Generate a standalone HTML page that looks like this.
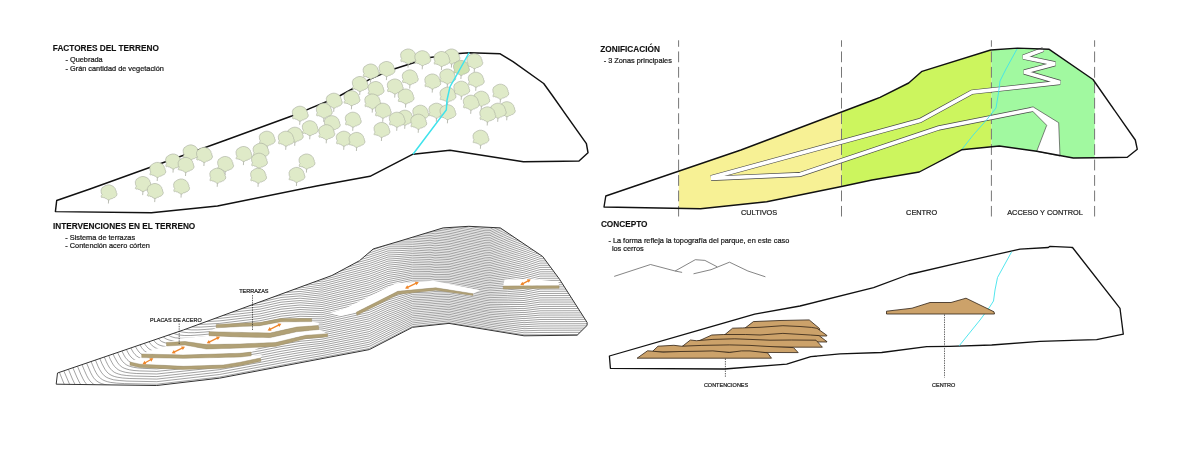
<!DOCTYPE html><html><head><meta charset="utf-8"><style>html,body{margin:0;padding:0;background:#fff;width:1200px;height:456px;overflow:hidden}svg{display:block}text{font-family:"Liberation Sans",sans-serif}svg text{will-change:transform}</style></head><body>
<svg width="1200" height="456" viewBox="0 0 1200 456">
<rect width="1200" height="456" fill="#fff"/>
<defs><clipPath id="trc"><polygon points="604.0,207.0 605.8,196.0 740.9,150.0 873.3,100.0 880.0,97.3 908.7,83.0 922.0,71.3 990.7,50.0 1017.5,48.1 1049.2,49.3 1093.0,79.5 1135.3,140.0 1137.3,149.3 1127.3,157.3 1073.3,158.0 1036.7,151.3 999.3,146.0 991.9,146.8 961.6,149.8 919.3,172.0 872.0,180.0 841.6,186.5 766.7,201.7 700.5,208.8"/></clipPath><clipPath id="blc"><polygon points="57.5,373.0 183.3,330.0 331.9,275.5 359.5,260.7 373.3,248.9 400.0,241.0 443.1,227.9 468.8,226.3 500.3,227.9 542.7,256.5 559.5,279.2 579.2,310.0 587.1,322.4 587.1,325.4 577.2,335.2 524.0,335.8 449.0,323.4 412.5,327.3 369.3,349.6 219.4,378.2 156.7,385.5 56.2,384.2"/></clipPath></defs>
<text x="52.8" y="50.8" font-size="8.25" font-weight="bold" fill="#111" stroke="#111" stroke-width="0.12">FACTORES DEL TERRENO</text>
<text x="65.5" y="62" font-size="7.35" font-weight="normal" fill="#1a1a1a" stroke="#1a1a1a" stroke-width="0.22">- Quebrada</text>
<text x="65.5" y="70.5" font-size="7.35" font-weight="normal" fill="#1a1a1a" stroke="#1a1a1a" stroke-width="0.22">- Grán cantidad de vegetación</text>
<text x="53" y="229.2" font-size="8.25" font-weight="bold" fill="#111" stroke="#111" stroke-width="0.12">INTERVENCIONES EN EL TERRENO</text>
<text x="65.3" y="240" font-size="7.35" font-weight="normal" fill="#1a1a1a" stroke="#1a1a1a" stroke-width="0.22">- Sistema de terrazas</text>
<text x="65.3" y="248.3" font-size="7.35" font-weight="normal" fill="#1a1a1a" stroke="#1a1a1a" stroke-width="0.22">- Contención acero córten</text>
<text x="600.3" y="51.7" font-size="8.25" font-weight="bold" fill="#111" stroke="#111" stroke-width="0.12">ZONIFICACIÓN</text>
<text x="603.7" y="63.3" font-size="7.35" font-weight="normal" fill="#1a1a1a" stroke="#1a1a1a" stroke-width="0.22">- 3 Zonas principales</text>
<text x="600.9" y="227.2" font-size="8.25" font-weight="bold" fill="#111" stroke="#111" stroke-width="0.12">CONCEPTO</text>
<text x="608.4" y="242.5" font-size="7.35" font-weight="normal" fill="#1a1a1a" stroke="#1a1a1a" stroke-width="0.22">- La forma refleja la topografía del parque, en este caso</text>
<text x="611.9" y="251.3" font-size="7.35" font-weight="normal" fill="#1a1a1a" stroke="#1a1a1a" stroke-width="0.22">los cerros</text>
<text x="741" y="215.3" font-size="7.35" font-weight="normal" fill="#1e1e1e" stroke="#1e1e1e" stroke-width="0.22">CULTIVOS</text>
<text x="906.1" y="215.2" font-size="7.35" font-weight="normal" fill="#1e1e1e" stroke="#1e1e1e" stroke-width="0.22">CENTRO</text>
<text x="1007.2" y="215.4" font-size="7.35" font-weight="normal" fill="#1e1e1e" stroke="#1e1e1e" stroke-width="0.22">ACCESO Y CONTROL</text>
<text x="239.2" y="292.5" font-size="5.5" font-weight="normal" fill="#1e1e1e" stroke="#1e1e1e" stroke-width="0.22">TERRAZAS</text>
<text x="150" y="321.7" font-size="5.5" font-weight="normal" fill="#1e1e1e" stroke="#1e1e1e" stroke-width="0.22">PLACAS DE ACERO</text>
<text x="703.9" y="386.7" font-size="5.5" font-weight="normal" fill="#1e1e1e" stroke="#1e1e1e" stroke-width="0.22">CONTENCIONES</text>
<text x="932" y="386.7" font-size="5.5" font-weight="normal" fill="#1e1e1e" stroke="#1e1e1e" stroke-width="0.22">CENTRO</text>
<polygon points="56.7,200.5 90.0,189.0 226.0,140.0 291.7,116.0 336.7,97.5 370.0,79.2 393.3,69.2 430.0,57.5 459.0,53.5 469.5,52.7 500.2,53.8 513.0,61.7 543.7,83.5 552.0,95.0 586.4,143.7 588.0,152.7 579.0,161.0 523.4,161.7 450.0,150.2 413.0,154.2 370.0,176.3 316.7,186.0 217.5,206.0 151.4,212.8 55.4,211.6" fill="none" stroke="#111" stroke-width="1.45" stroke-linejoin="round"/>
<path d="M408.3 62.6L408.0 67.6" stroke="#a8aca0" stroke-width="0.8" fill="none"/>
<path d="M402.5 51.3Q404.5 49.5 407.2 49.0Q409.5 48.7 411.5 49.8Q413.2 50.3 414.1 51.9Q415.2 52.6 415.1 54.0Q416.2 55.2 415.9 56.6Q416.9 57.7 416.5 58.7Q416.4 60.0 415.1 60.8Q414.6 61.8 413.0 61.9Q412.1 63.0 410.4 62.9Q409.5 64.1 408.3 64.0Q407.1 64.1 406.2 62.9Q405.1 63.0 404.6 61.9Q403.1 62.1 402.5 61.3Q401.3 61.9 401.2 61.6Q400.4 61.3 400.9 60.3Q400.7 59.8 401.7 58.7Q400.5 57.2 400.7 55.5Q400.3 54.0 401.2 52.9Q401.3 51.7 402.5 51.3Z" fill="#dfeac8" stroke="#a8ac9e" stroke-width="0.6"/>
<path d="M451.7 62.6L451.4 67.6" stroke="#a8aca0" stroke-width="0.8" fill="none"/>
<path d="M445.9 51.3Q447.9 49.5 450.6 49.0Q452.9 48.7 454.9 49.8Q456.6 50.3 457.5 51.9Q458.6 52.6 458.5 54.0Q459.6 55.2 459.3 56.6Q460.3 57.7 459.9 58.7Q459.8 60.0 458.5 60.8Q458.0 61.8 456.4 61.9Q455.5 63.0 453.8 62.9Q452.9 64.1 451.7 64.0Q450.5 64.1 449.6 62.9Q448.5 63.0 448.0 61.9Q446.5 62.1 445.9 61.3Q444.7 61.9 444.6 61.6Q443.8 61.3 444.3 60.3Q444.1 59.8 445.1 58.7Q443.9 57.2 444.1 55.5Q443.7 54.0 444.6 52.9Q444.7 51.7 445.9 51.3Z" fill="#dfeac8" stroke="#a8ac9e" stroke-width="0.6"/>
<path d="M422.5 64.3L422.2 69.3" stroke="#a8aca0" stroke-width="0.8" fill="none"/>
<path d="M416.7 53.0Q418.7 51.2 421.4 50.7Q423.7 50.4 425.7 51.5Q427.4 52.0 428.3 53.6Q429.4 54.3 429.3 55.7Q430.4 56.9 430.1 58.3Q431.1 59.4 430.7 60.4Q430.6 61.7 429.3 62.5Q428.8 63.5 427.2 63.6Q426.3 64.7 424.6 64.6Q423.7 65.8 422.5 65.7Q421.3 65.8 420.4 64.6Q419.3 64.7 418.8 63.6Q417.3 63.8 416.7 63.0Q415.5 63.6 415.4 63.3Q414.6 63.0 415.1 62.0Q414.9 61.5 415.9 60.4Q414.7 58.9 414.9 57.2Q414.5 55.7 415.4 54.6Q415.5 53.4 416.7 53.0Z" fill="#dfeac8" stroke="#a8ac9e" stroke-width="0.6"/>
<path d="M441.7 65.1L441.4 70.1" stroke="#a8aca0" stroke-width="0.8" fill="none"/>
<path d="M435.9 53.8Q437.9 52.0 440.6 51.5Q442.9 51.2 444.9 52.3Q446.6 52.8 447.5 54.4Q448.6 55.1 448.5 56.5Q449.6 57.7 449.3 59.1Q450.3 60.2 449.9 61.2Q449.8 62.5 448.5 63.3Q448.0 64.3 446.4 64.4Q445.5 65.5 443.8 65.4Q442.9 66.6 441.7 66.5Q440.5 66.6 439.6 65.4Q438.5 65.5 438.0 64.4Q436.5 64.6 435.9 63.8Q434.7 64.4 434.6 64.1Q433.8 63.8 434.3 62.8Q434.1 62.3 435.1 61.2Q433.9 59.7 434.1 58.0Q433.7 56.5 434.6 55.4Q434.7 54.2 435.9 53.8Z" fill="#dfeac8" stroke="#a8ac9e" stroke-width="0.6"/>
<path d="M474.5 67.3L474.2 72.3" stroke="#a8aca0" stroke-width="0.8" fill="none"/>
<path d="M468.7 56.0Q470.7 54.2 473.4 53.7Q475.7 53.4 477.7 54.5Q479.4 55.0 480.3 56.6Q481.4 57.3 481.3 58.7Q482.4 59.9 482.1 61.3Q483.1 62.4 482.7 63.4Q482.6 64.7 481.3 65.5Q480.8 66.5 479.2 66.6Q478.3 67.7 476.6 67.6Q475.7 68.8 474.5 68.7Q473.3 68.8 472.4 67.6Q471.3 67.7 470.8 66.6Q469.3 66.8 468.7 66.0Q467.5 66.6 467.4 66.3Q466.6 66.0 467.1 65.0Q466.9 64.5 467.9 63.4Q466.7 61.9 466.9 60.2Q466.5 58.7 467.4 57.6Q467.5 56.4 468.7 56.0Z" fill="#dfeac8" stroke="#a8ac9e" stroke-width="0.6"/>
<path d="M461.2 74.0L460.9 79.0" stroke="#a8aca0" stroke-width="0.8" fill="none"/>
<path d="M455.4 62.7Q457.4 60.9 460.1 60.4Q462.4 60.1 464.4 61.2Q466.1 61.7 467.0 63.3Q468.1 64.0 468.0 65.4Q469.1 66.6 468.8 68.0Q469.8 69.1 469.4 70.1Q469.3 71.4 468.0 72.2Q467.5 73.2 465.9 73.3Q465.0 74.4 463.3 74.3Q462.4 75.5 461.2 75.4Q460.0 75.5 459.1 74.3Q458.0 74.4 457.5 73.3Q456.0 73.5 455.4 72.7Q454.2 73.3 454.1 73.0Q453.3 72.7 453.8 71.7Q453.6 71.2 454.6 70.1Q453.4 68.6 453.6 67.0Q453.2 65.4 454.1 64.3Q454.2 63.1 455.4 62.7Z" fill="#cfe2b0" stroke="#a8ac9e" stroke-width="0.6"/>
<path d="M386.7 75.1L386.4 80.1" stroke="#a8aca0" stroke-width="0.8" fill="none"/>
<path d="M380.9 63.8Q382.9 62.0 385.6 61.5Q387.9 61.2 389.9 62.3Q391.6 62.8 392.5 64.4Q393.6 65.1 393.5 66.5Q394.6 67.7 394.3 69.1Q395.3 70.2 394.9 71.2Q394.8 72.5 393.5 73.3Q393.0 74.3 391.4 74.4Q390.5 75.5 388.8 75.4Q387.9 76.6 386.7 76.5Q385.5 76.6 384.6 75.4Q383.5 75.5 383.0 74.4Q381.5 74.6 380.9 73.8Q379.7 74.4 379.6 74.1Q378.8 73.8 379.3 72.8Q379.1 72.3 380.1 71.2Q378.9 69.7 379.1 68.0Q378.7 66.5 379.6 65.4Q379.7 64.2 380.9 63.8Z" fill="#dfeac8" stroke="#a8ac9e" stroke-width="0.6"/>
<path d="M370.8 77.6L370.5 82.6" stroke="#a8aca0" stroke-width="0.8" fill="none"/>
<path d="M365.0 66.3Q367.0 64.5 369.8 64.0Q372.0 63.7 374.0 64.8Q375.7 65.3 376.6 66.9Q377.7 67.6 377.6 69.0Q378.7 70.2 378.4 71.6Q379.4 72.7 379.0 73.7Q378.9 75.0 377.6 75.8Q377.1 76.8 375.5 76.9Q374.6 78.0 372.9 77.9Q372.0 79.1 370.8 79.0Q369.6 79.1 368.7 77.9Q367.6 78.0 367.1 76.9Q365.6 77.1 365.0 76.3Q363.8 76.9 363.7 76.6Q362.9 76.3 363.4 75.3Q363.2 74.8 364.2 73.7Q363.0 72.2 363.2 70.5Q362.8 69.0 363.7 67.9Q363.8 66.7 365.0 66.3Z" fill="#dfeac8" stroke="#a8ac9e" stroke-width="0.6"/>
<path d="M447.5 82.6L447.2 87.6" stroke="#a8aca0" stroke-width="0.8" fill="none"/>
<path d="M441.7 71.3Q443.7 69.5 446.4 69.0Q448.7 68.7 450.7 69.8Q452.4 70.3 453.3 71.9Q454.4 72.6 454.3 74.0Q455.4 75.2 455.1 76.6Q456.1 77.7 455.7 78.7Q455.6 80.0 454.3 80.8Q453.8 81.8 452.2 81.9Q451.3 83.0 449.6 82.9Q448.7 84.1 447.5 84.0Q446.3 84.1 445.4 82.9Q444.3 83.0 443.8 81.9Q442.3 82.1 441.7 81.3Q440.5 81.9 440.4 81.6Q439.6 81.3 440.1 80.3Q439.9 79.8 440.9 78.7Q439.7 77.2 439.9 75.5Q439.5 74.0 440.4 72.9Q440.5 71.7 441.7 71.3Z" fill="#dfeac8" stroke="#a8ac9e" stroke-width="0.6"/>
<path d="M410.0 83.5L409.7 88.5" stroke="#a8aca0" stroke-width="0.8" fill="none"/>
<path d="M404.2 72.2Q406.2 70.4 408.9 69.9Q411.2 69.6 413.2 70.7Q414.9 71.2 415.8 72.8Q416.9 73.5 416.8 74.9Q417.9 76.1 417.6 77.5Q418.6 78.6 418.2 79.6Q418.1 80.9 416.8 81.7Q416.3 82.7 414.7 82.8Q413.8 83.9 412.1 83.8Q411.2 85.0 410.0 84.9Q408.8 85.0 407.9 83.8Q406.8 83.9 406.3 82.8Q404.8 83.0 404.2 82.2Q403.0 82.8 402.9 82.5Q402.1 82.2 402.6 81.2Q402.4 80.7 403.4 79.6Q402.2 78.1 402.4 76.5Q402.0 74.9 402.9 73.8Q403.0 72.6 404.2 72.2Z" fill="#dfeac8" stroke="#a8ac9e" stroke-width="0.6"/>
<path d="M476.0 85.8L475.7 90.8" stroke="#a8aca0" stroke-width="0.8" fill="none"/>
<path d="M470.2 74.5Q472.2 72.7 474.9 72.2Q477.2 71.9 479.2 73.0Q480.9 73.5 481.8 75.1Q482.9 75.8 482.8 77.2Q483.9 78.4 483.6 79.8Q484.6 80.9 484.2 81.9Q484.1 83.2 482.8 84.0Q482.3 85.0 480.7 85.1Q479.8 86.2 478.1 86.1Q477.2 87.3 476.0 87.2Q474.8 87.3 473.9 86.1Q472.8 86.2 472.3 85.1Q470.8 85.3 470.2 84.5Q469.0 85.1 468.9 84.8Q468.1 84.5 468.6 83.5Q468.4 83.0 469.4 81.9Q468.2 80.4 468.4 78.8Q468.0 77.2 468.9 76.1Q469.0 74.9 470.2 74.5Z" fill="#dfeac8" stroke="#a8ac9e" stroke-width="0.6"/>
<path d="M432.5 87.6L432.2 92.6" stroke="#a8aca0" stroke-width="0.8" fill="none"/>
<path d="M426.7 76.3Q428.7 74.5 431.4 74.0Q433.7 73.7 435.7 74.8Q437.4 75.3 438.3 76.9Q439.4 77.6 439.3 79.0Q440.4 80.2 440.1 81.6Q441.1 82.7 440.7 83.7Q440.6 85.0 439.3 85.8Q438.8 86.8 437.2 86.9Q436.3 88.0 434.6 87.9Q433.7 89.1 432.5 89.0Q431.3 89.1 430.4 87.9Q429.3 88.0 428.8 86.9Q427.3 87.1 426.7 86.3Q425.5 86.9 425.4 86.6Q424.6 86.3 425.1 85.3Q424.9 84.8 425.9 83.7Q424.7 82.2 424.9 80.5Q424.5 79.0 425.4 77.9Q425.5 76.7 426.7 76.3Z" fill="#dfeac8" stroke="#a8ac9e" stroke-width="0.6"/>
<path d="M360.0 90.1L359.7 95.1" stroke="#a8aca0" stroke-width="0.8" fill="none"/>
<path d="M354.2 78.8Q356.2 77.0 358.9 76.5Q361.2 76.2 363.2 77.3Q364.9 77.8 365.8 79.4Q366.9 80.1 366.8 81.5Q367.9 82.7 367.6 84.1Q368.6 85.2 368.2 86.2Q368.1 87.5 366.8 88.3Q366.3 89.3 364.7 89.4Q363.8 90.5 362.1 90.4Q361.2 91.6 360.0 91.5Q358.8 91.6 357.9 90.4Q356.8 90.5 356.3 89.4Q354.8 89.6 354.2 88.8Q353.0 89.4 352.9 89.1Q352.1 88.8 352.6 87.8Q352.4 87.3 353.4 86.2Q352.2 84.7 352.4 83.0Q352.0 81.5 352.9 80.4Q353.0 79.2 354.2 78.8Z" fill="#dfeac8" stroke="#a8ac9e" stroke-width="0.6"/>
<path d="M395.0 92.6L394.7 97.6" stroke="#a8aca0" stroke-width="0.8" fill="none"/>
<path d="M389.2 81.3Q391.2 79.5 393.9 79.0Q396.2 78.7 398.2 79.8Q399.9 80.3 400.8 81.9Q401.9 82.6 401.8 84.0Q402.9 85.2 402.6 86.6Q403.6 87.7 403.2 88.7Q403.1 90.0 401.8 90.8Q401.3 91.8 399.7 91.9Q398.8 93.0 397.1 92.9Q396.2 94.1 395.0 94.0Q393.8 94.1 392.9 92.9Q391.8 93.0 391.3 91.9Q389.8 92.1 389.2 91.3Q388.0 91.9 387.9 91.6Q387.1 91.3 387.6 90.3Q387.4 89.8 388.4 88.7Q387.2 87.2 387.4 85.5Q387.0 84.0 387.9 82.9Q388.0 81.7 389.2 81.3Z" fill="#dfeac8" stroke="#a8ac9e" stroke-width="0.6"/>
<path d="M461.5 94.8L461.2 99.8" stroke="#a8aca0" stroke-width="0.8" fill="none"/>
<path d="M455.7 83.5Q457.7 81.7 460.4 81.2Q462.7 80.9 464.7 82.0Q466.4 82.5 467.3 84.1Q468.4 84.8 468.3 86.2Q469.4 87.4 469.1 88.8Q470.1 89.9 469.7 90.9Q469.6 92.2 468.3 93.0Q467.8 94.0 466.2 94.1Q465.3 95.2 463.6 95.1Q462.7 96.3 461.5 96.2Q460.3 96.3 459.4 95.1Q458.3 95.2 457.8 94.1Q456.3 94.3 455.7 93.5Q454.5 94.1 454.4 93.8Q453.6 93.5 454.1 92.5Q453.9 92.0 454.9 90.9Q453.7 89.4 453.9 87.8Q453.5 86.2 454.4 85.1Q454.5 83.9 455.7 83.5Z" fill="#dfeac8" stroke="#a8ac9e" stroke-width="0.6"/>
<path d="M375.8 95.1L375.5 100.1" stroke="#a8aca0" stroke-width="0.8" fill="none"/>
<path d="M370.0 83.8Q372.0 82.0 374.8 81.5Q377.0 81.2 379.0 82.3Q380.7 82.8 381.6 84.4Q382.7 85.1 382.6 86.5Q383.7 87.7 383.4 89.1Q384.4 90.2 384.0 91.2Q383.9 92.5 382.6 93.3Q382.1 94.3 380.5 94.4Q379.6 95.5 377.9 95.4Q377.0 96.6 375.8 96.5Q374.6 96.6 373.7 95.4Q372.6 95.5 372.1 94.4Q370.6 94.6 370.0 93.8Q368.8 94.4 368.7 94.1Q367.9 93.8 368.4 92.8Q368.2 92.3 369.2 91.2Q368.0 89.7 368.2 88.0Q367.8 86.5 368.7 85.4Q368.8 84.2 370.0 83.8Z" fill="#dfeac8" stroke="#a8ac9e" stroke-width="0.6"/>
<path d="M500.5 97.8L500.2 102.8" stroke="#a8aca0" stroke-width="0.8" fill="none"/>
<path d="M494.7 86.5Q496.7 84.7 499.4 84.2Q501.7 83.9 503.7 85.0Q505.4 85.5 506.3 87.1Q507.4 87.8 507.3 89.2Q508.4 90.4 508.1 91.8Q509.1 92.9 508.7 93.9Q508.6 95.2 507.3 96.0Q506.8 97.0 505.2 97.1Q504.3 98.2 502.6 98.1Q501.7 99.3 500.5 99.2Q499.3 99.3 498.4 98.1Q497.3 98.2 496.8 97.1Q495.3 97.3 494.7 96.5Q493.5 97.1 493.4 96.8Q492.6 96.5 493.1 95.5Q492.9 95.0 493.9 93.9Q492.7 92.4 492.9 90.8Q492.5 89.2 493.4 88.1Q493.5 86.9 494.7 86.5Z" fill="#dfeac8" stroke="#a8ac9e" stroke-width="0.6"/>
<path d="M447.7 100.8L447.4 105.8" stroke="#a8aca0" stroke-width="0.8" fill="none"/>
<path d="M441.9 89.5Q443.9 87.7 446.6 87.2Q448.9 86.9 450.9 88.0Q452.6 88.5 453.5 90.1Q454.6 90.8 454.5 92.2Q455.6 93.4 455.3 94.8Q456.3 95.9 455.9 96.9Q455.8 98.2 454.5 99.0Q454.0 100.0 452.4 100.1Q451.5 101.2 449.8 101.1Q448.9 102.3 447.7 102.2Q446.5 102.3 445.6 101.1Q444.5 101.2 444.0 100.1Q442.5 100.3 441.9 99.5Q440.7 100.1 440.6 99.8Q439.8 99.5 440.3 98.5Q440.1 98.0 441.1 96.9Q439.9 95.4 440.1 93.8Q439.7 92.2 440.6 91.1Q440.7 89.9 441.9 89.5Z" fill="#dfeac8" stroke="#a8ac9e" stroke-width="0.6"/>
<path d="M405.8 102.6L405.5 107.6" stroke="#a8aca0" stroke-width="0.8" fill="none"/>
<path d="M400.0 91.3Q402.0 89.5 404.8 89.0Q407.0 88.7 409.0 89.8Q410.7 90.3 411.6 91.9Q412.7 92.6 412.6 94.0Q413.7 95.2 413.4 96.6Q414.4 97.7 414.0 98.7Q413.9 100.0 412.6 100.8Q412.1 101.8 410.5 101.9Q409.6 103.0 407.9 102.9Q407.0 104.1 405.8 104.0Q404.6 104.1 403.7 102.9Q402.6 103.0 402.1 101.9Q400.6 102.1 400.0 101.3Q398.8 101.9 398.7 101.6Q397.9 101.3 398.4 100.3Q398.2 99.8 399.2 98.7Q398.0 97.2 398.2 95.5Q397.8 94.0 398.7 92.9Q398.8 91.7 400.0 91.3Z" fill="#dfeac8" stroke="#a8ac9e" stroke-width="0.6"/>
<path d="M351.7 104.3L351.4 109.3" stroke="#a8aca0" stroke-width="0.8" fill="none"/>
<path d="M345.9 93.0Q347.9 91.2 350.6 90.7Q352.9 90.4 354.9 91.5Q356.6 92.0 357.5 93.6Q358.6 94.3 358.5 95.7Q359.6 96.9 359.3 98.3Q360.3 99.4 359.9 100.4Q359.8 101.7 358.5 102.5Q358.0 103.5 356.4 103.6Q355.5 104.7 353.8 104.6Q352.9 105.8 351.7 105.7Q350.5 105.8 349.6 104.6Q348.5 104.7 348.0 103.6Q346.5 103.8 345.9 103.0Q344.7 103.6 344.6 103.3Q343.8 103.0 344.3 102.0Q344.1 101.5 345.1 100.4Q343.9 98.9 344.1 97.2Q343.7 95.7 344.6 94.6Q344.7 93.4 345.9 93.0Z" fill="#dfeac8" stroke="#a8ac9e" stroke-width="0.6"/>
<path d="M481.5 104.8L481.2 109.8" stroke="#a8aca0" stroke-width="0.8" fill="none"/>
<path d="M475.7 93.5Q477.7 91.7 480.4 91.2Q482.7 90.9 484.7 92.0Q486.4 92.5 487.3 94.1Q488.4 94.8 488.3 96.2Q489.4 97.4 489.1 98.8Q490.1 99.9 489.7 100.9Q489.6 102.2 488.3 103.0Q487.8 104.0 486.2 104.1Q485.3 105.2 483.6 105.1Q482.7 106.3 481.5 106.2Q480.3 106.3 479.4 105.1Q478.3 105.2 477.8 104.1Q476.3 104.3 475.7 103.5Q474.5 104.1 474.4 103.8Q473.6 103.5 474.1 102.5Q473.9 102.0 474.9 100.9Q473.7 99.4 473.9 97.8Q473.5 96.2 474.4 95.1Q474.5 93.9 475.7 93.5Z" fill="#dfeac8" stroke="#a8ac9e" stroke-width="0.6"/>
<path d="M334.0 106.8L333.7 111.8" stroke="#a8aca0" stroke-width="0.8" fill="none"/>
<path d="M328.2 95.5Q330.2 93.7 332.9 93.2Q335.2 92.9 337.2 94.0Q338.9 94.5 339.8 96.1Q340.9 96.8 340.8 98.2Q341.9 99.4 341.6 100.8Q342.6 101.9 342.2 102.9Q342.1 104.2 340.8 105.0Q340.3 106.0 338.7 106.1Q337.8 107.2 336.1 107.1Q335.2 108.3 334.0 108.2Q332.8 108.3 331.9 107.1Q330.8 107.2 330.3 106.1Q328.8 106.3 328.2 105.5Q327.0 106.1 326.9 105.8Q326.1 105.5 326.6 104.5Q326.4 104.0 327.4 102.9Q326.2 101.4 326.4 99.8Q326.0 98.2 326.9 97.1Q327.0 95.9 328.2 95.5Z" fill="#dfeac8" stroke="#a8ac9e" stroke-width="0.6"/>
<path d="M372.5 107.6L372.2 112.6" stroke="#a8aca0" stroke-width="0.8" fill="none"/>
<path d="M366.7 96.3Q368.7 94.5 371.4 94.0Q373.7 93.7 375.7 94.8Q377.4 95.3 378.3 96.9Q379.4 97.6 379.3 99.0Q380.4 100.2 380.1 101.6Q381.1 102.7 380.7 103.7Q380.6 105.0 379.3 105.8Q378.8 106.8 377.2 106.9Q376.3 108.0 374.6 107.9Q373.7 109.1 372.5 109.0Q371.3 109.1 370.4 107.9Q369.3 108.0 368.8 106.9Q367.3 107.1 366.7 106.3Q365.5 106.9 365.4 106.6Q364.6 106.3 365.1 105.3Q364.9 104.8 365.9 103.7Q364.7 102.2 364.9 100.5Q364.5 99.0 365.4 97.9Q365.5 96.7 366.7 96.3Z" fill="#dfeac8" stroke="#a8ac9e" stroke-width="0.6"/>
<path d="M471.0 108.8L470.7 113.8" stroke="#a8aca0" stroke-width="0.8" fill="none"/>
<path d="M465.2 97.5Q467.2 95.7 469.9 95.2Q472.2 94.9 474.2 96.0Q475.9 96.5 476.8 98.1Q477.9 98.8 477.8 100.2Q478.9 101.4 478.6 102.8Q479.6 103.9 479.2 104.9Q479.1 106.2 477.8 107.0Q477.3 108.0 475.7 108.1Q474.8 109.2 473.1 109.1Q472.2 110.3 471.0 110.2Q469.8 110.3 468.9 109.1Q467.8 109.2 467.3 108.1Q465.8 108.3 465.2 107.5Q464.0 108.1 463.9 107.8Q463.1 107.5 463.6 106.5Q463.4 106.0 464.4 104.9Q463.2 103.4 463.4 101.8Q463.0 100.2 463.9 99.1Q464.0 97.9 465.2 97.5Z" fill="#dfeac8" stroke="#a8ac9e" stroke-width="0.6"/>
<path d="M507.0 115.3L506.7 120.3" stroke="#a8aca0" stroke-width="0.8" fill="none"/>
<path d="M501.2 104.0Q503.2 102.2 505.9 101.7Q508.2 101.4 510.2 102.5Q511.9 103.0 512.8 104.6Q513.9 105.3 513.8 106.7Q514.9 107.9 514.6 109.3Q515.6 110.4 515.2 111.4Q515.1 112.7 513.8 113.5Q513.3 114.5 511.7 114.6Q510.8 115.7 509.1 115.6Q508.2 116.8 507.0 116.7Q505.8 116.8 504.9 115.6Q503.8 115.7 503.3 114.6Q501.8 114.8 501.2 114.0Q500.0 114.6 499.9 114.3Q499.1 114.0 499.6 113.0Q499.4 112.5 500.4 111.4Q499.2 109.9 499.4 108.2Q499.0 106.7 499.9 105.6Q500.0 104.4 501.2 104.0Z" fill="#dfeac8" stroke="#a8ac9e" stroke-width="0.6"/>
<path d="M324.0 116.8L323.7 121.8" stroke="#a8aca0" stroke-width="0.8" fill="none"/>
<path d="M318.2 105.5Q320.2 103.7 322.9 103.2Q325.2 102.9 327.2 104.0Q328.9 104.5 329.8 106.1Q330.9 106.8 330.8 108.2Q331.9 109.4 331.6 110.8Q332.6 111.9 332.2 112.9Q332.1 114.2 330.8 115.0Q330.3 116.0 328.7 116.1Q327.8 117.2 326.1 117.1Q325.2 118.3 324.0 118.2Q322.8 118.3 321.9 117.1Q320.8 117.2 320.3 116.1Q318.8 116.3 318.2 115.5Q317.0 116.1 316.9 115.8Q316.1 115.5 316.6 114.5Q316.4 114.0 317.4 112.9Q316.2 111.4 316.4 109.8Q316.0 108.2 316.9 107.1Q317.0 105.9 318.2 105.5Z" fill="#dfeac8" stroke="#a8ac9e" stroke-width="0.6"/>
<path d="M383.0 116.8L382.7 121.8" stroke="#a8aca0" stroke-width="0.8" fill="none"/>
<path d="M377.2 105.5Q379.2 103.7 381.9 103.2Q384.2 102.9 386.2 104.0Q387.9 104.5 388.8 106.1Q389.9 106.8 389.8 108.2Q390.9 109.4 390.6 110.8Q391.6 111.9 391.2 112.9Q391.1 114.2 389.8 115.0Q389.3 116.0 387.7 116.1Q386.8 117.2 385.1 117.1Q384.2 118.3 383.0 118.2Q381.8 118.3 380.9 117.1Q379.8 117.2 379.3 116.1Q377.8 116.3 377.2 115.5Q376.0 116.1 375.9 115.8Q375.1 115.5 375.6 114.5Q375.4 114.0 376.4 112.9Q375.2 111.4 375.4 109.8Q375.0 108.2 375.9 107.1Q376.0 105.9 377.2 105.5Z" fill="#dfeac8" stroke="#a8ac9e" stroke-width="0.6"/>
<path d="M436.6 116.8L436.3 121.8" stroke="#a8aca0" stroke-width="0.8" fill="none"/>
<path d="M430.8 105.5Q432.8 103.7 435.6 103.2Q437.8 102.9 439.8 104.0Q441.5 104.5 442.4 106.1Q443.5 106.8 443.4 108.2Q444.5 109.4 444.2 110.8Q445.2 111.9 444.8 112.9Q444.7 114.2 443.4 115.0Q442.9 116.0 441.3 116.1Q440.4 117.2 438.7 117.1Q437.8 118.3 436.6 118.2Q435.4 118.3 434.5 117.1Q433.4 117.2 432.9 116.1Q431.4 116.3 430.8 115.5Q429.6 116.1 429.5 115.8Q428.7 115.5 429.2 114.5Q429.0 114.0 430.0 112.9Q428.8 111.4 429.0 109.8Q428.6 108.2 429.5 107.1Q429.6 105.9 430.8 105.5Z" fill="#dfeac8" stroke="#a8ac9e" stroke-width="0.6"/>
<path d="M498.0 116.8L497.7 121.8" stroke="#a8aca0" stroke-width="0.8" fill="none"/>
<path d="M492.2 105.5Q494.2 103.7 496.9 103.2Q499.2 102.9 501.2 104.0Q502.9 104.5 503.8 106.1Q504.9 106.8 504.8 108.2Q505.9 109.4 505.6 110.8Q506.6 111.9 506.2 112.9Q506.1 114.2 504.8 115.0Q504.3 116.0 502.7 116.1Q501.8 117.2 500.1 117.1Q499.2 118.3 498.0 118.2Q496.8 118.3 495.9 117.1Q494.8 117.2 494.3 116.1Q492.8 116.3 492.2 115.5Q491.0 116.1 490.9 115.8Q490.1 115.5 490.6 114.5Q490.4 114.0 491.4 112.9Q490.2 111.4 490.4 109.8Q490.0 108.2 490.9 107.1Q491.0 105.9 492.2 105.5Z" fill="#dfeac8" stroke="#a8ac9e" stroke-width="0.6"/>
<path d="M447.7 118.3L447.4 123.3" stroke="#a8aca0" stroke-width="0.8" fill="none"/>
<path d="M441.9 107.0Q443.9 105.2 446.6 104.7Q448.9 104.4 450.9 105.5Q452.6 106.0 453.5 107.6Q454.6 108.3 454.5 109.7Q455.6 110.9 455.3 112.3Q456.3 113.4 455.9 114.4Q455.8 115.7 454.5 116.5Q454.0 117.5 452.4 117.6Q451.5 118.7 449.8 118.6Q448.9 119.8 447.7 119.7Q446.5 119.8 445.6 118.6Q444.5 118.7 444.0 117.6Q442.5 117.8 441.9 117.0Q440.7 117.6 440.6 117.3Q439.8 117.0 440.3 116.0Q440.1 115.5 441.1 114.4Q439.9 112.9 440.1 111.2Q439.7 109.7 440.6 108.6Q440.7 107.4 441.9 107.0Z" fill="#dfeac8" stroke="#a8ac9e" stroke-width="0.6"/>
<path d="M420.5 118.8L420.2 123.8" stroke="#a8aca0" stroke-width="0.8" fill="none"/>
<path d="M414.7 107.5Q416.7 105.7 419.4 105.2Q421.7 104.9 423.7 106.0Q425.4 106.5 426.3 108.1Q427.4 108.8 427.3 110.2Q428.4 111.4 428.1 112.8Q429.1 113.9 428.7 114.9Q428.6 116.2 427.3 117.0Q426.8 118.0 425.2 118.1Q424.3 119.2 422.6 119.1Q421.7 120.3 420.5 120.2Q419.3 120.3 418.4 119.1Q417.3 119.2 416.8 118.1Q415.3 118.3 414.7 117.5Q413.5 118.1 413.4 117.8Q412.6 117.5 413.1 116.5Q412.9 116.0 413.9 114.9Q412.7 113.4 412.9 111.8Q412.5 110.2 413.4 109.1Q413.5 107.9 414.7 107.5Z" fill="#dfeac8" stroke="#a8ac9e" stroke-width="0.6"/>
<path d="M300.0 119.8L299.7 124.8" stroke="#a8aca0" stroke-width="0.8" fill="none"/>
<path d="M294.2 108.5Q296.2 106.7 298.9 106.2Q301.2 105.9 303.2 107.0Q304.9 107.5 305.8 109.1Q306.9 109.8 306.8 111.2Q307.9 112.4 307.6 113.8Q308.6 114.9 308.2 115.9Q308.1 117.2 306.8 118.0Q306.3 119.0 304.7 119.1Q303.8 120.2 302.1 120.1Q301.2 121.3 300.0 121.2Q298.8 121.3 297.9 120.1Q296.8 120.2 296.3 119.1Q294.8 119.3 294.2 118.5Q293.0 119.1 292.9 118.8Q292.1 118.5 292.6 117.5Q292.4 117.0 293.4 115.9Q292.2 114.4 292.4 112.8Q292.0 111.2 292.9 110.1Q293.0 108.9 294.2 108.5Z" fill="#dfeac8" stroke="#a8ac9e" stroke-width="0.6"/>
<path d="M487.5 120.5L487.2 125.5" stroke="#a8aca0" stroke-width="0.8" fill="none"/>
<path d="M481.7 109.2Q483.7 107.4 486.4 106.9Q488.7 106.6 490.7 107.7Q492.4 108.2 493.3 109.8Q494.4 110.5 494.3 111.9Q495.4 113.1 495.1 114.5Q496.1 115.6 495.7 116.6Q495.6 117.9 494.3 118.7Q493.8 119.7 492.2 119.8Q491.3 120.9 489.6 120.8Q488.7 122.0 487.5 121.9Q486.3 122.0 485.4 120.8Q484.3 120.9 483.8 119.8Q482.3 120.0 481.7 119.2Q480.5 119.8 480.4 119.5Q479.6 119.2 480.1 118.2Q479.9 117.7 480.9 116.6Q479.7 115.1 479.9 113.5Q479.5 111.9 480.4 110.8Q480.5 109.6 481.7 109.2Z" fill="#dfeac8" stroke="#a8ac9e" stroke-width="0.6"/>
<path d="M405.0 123.8L404.7 128.8" stroke="#a8aca0" stroke-width="0.8" fill="none"/>
<path d="M399.2 112.5Q401.2 110.7 403.9 110.2Q406.2 109.9 408.2 111.0Q409.9 111.5 410.8 113.1Q411.9 113.8 411.8 115.2Q412.9 116.4 412.6 117.8Q413.6 118.9 413.2 119.9Q413.1 121.2 411.8 122.0Q411.3 123.0 409.7 123.1Q408.8 124.2 407.1 124.1Q406.2 125.3 405.0 125.2Q403.8 125.3 402.9 124.1Q401.8 124.2 401.3 123.1Q399.8 123.3 399.2 122.5Q398.0 123.1 397.9 122.8Q397.1 122.5 397.6 121.5Q397.4 121.0 398.4 119.9Q397.2 118.4 397.4 116.8Q397.0 115.2 397.9 114.1Q398.0 112.9 399.2 112.5Z" fill="#dfeac8" stroke="#a8ac9e" stroke-width="0.6"/>
<path d="M353.0 125.8L352.7 130.8" stroke="#a8aca0" stroke-width="0.8" fill="none"/>
<path d="M347.2 114.5Q349.2 112.7 351.9 112.2Q354.2 111.9 356.2 113.0Q357.9 113.5 358.8 115.1Q359.9 115.8 359.8 117.2Q360.9 118.4 360.6 119.8Q361.6 120.9 361.2 121.9Q361.1 123.2 359.8 124.0Q359.3 125.0 357.7 125.1Q356.8 126.2 355.1 126.1Q354.2 127.3 353.0 127.2Q351.8 127.3 350.9 126.1Q349.8 126.2 349.3 125.1Q347.8 125.3 347.2 124.5Q346.0 125.1 345.9 124.8Q345.1 124.5 345.6 123.5Q345.4 123.0 346.4 121.9Q345.2 120.4 345.4 118.8Q345.0 117.2 345.9 116.1Q346.0 114.9 347.2 114.5Z" fill="#dfeac8" stroke="#a8ac9e" stroke-width="0.6"/>
<path d="M397.0 125.8L396.7 130.8" stroke="#a8aca0" stroke-width="0.8" fill="none"/>
<path d="M391.2 114.5Q393.2 112.7 395.9 112.2Q398.2 111.9 400.2 113.0Q401.9 113.5 402.8 115.1Q403.9 115.8 403.8 117.2Q404.9 118.4 404.6 119.8Q405.6 120.9 405.2 121.9Q405.1 123.2 403.8 124.0Q403.3 125.0 401.7 125.1Q400.8 126.2 399.1 126.1Q398.2 127.3 397.0 127.2Q395.8 127.3 394.9 126.1Q393.8 126.2 393.3 125.1Q391.8 125.3 391.2 124.5Q390.0 125.1 389.9 124.8Q389.1 124.5 389.6 123.5Q389.4 123.0 390.4 121.9Q389.2 120.4 389.4 118.8Q389.0 117.2 389.9 116.1Q390.0 114.9 391.2 114.5Z" fill="#dfeac8" stroke="#a8ac9e" stroke-width="0.6"/>
<path d="M418.5 127.8L418.2 132.8" stroke="#a8aca0" stroke-width="0.8" fill="none"/>
<path d="M412.7 116.5Q414.7 114.7 417.4 114.2Q419.7 113.9 421.7 115.0Q423.4 115.5 424.3 117.1Q425.4 117.8 425.3 119.2Q426.4 120.4 426.1 121.8Q427.1 122.9 426.7 123.9Q426.6 125.2 425.3 126.0Q424.8 127.0 423.2 127.1Q422.3 128.2 420.6 128.1Q419.7 129.3 418.5 129.2Q417.3 129.3 416.4 128.1Q415.3 128.2 414.8 127.1Q413.3 127.3 412.7 126.5Q411.5 127.1 411.4 126.8Q410.6 126.5 411.1 125.5Q410.9 125.0 411.9 123.9Q410.7 122.4 410.9 120.8Q410.5 119.2 411.4 118.1Q411.5 116.9 412.7 116.5Z" fill="#dfeac8" stroke="#a8ac9e" stroke-width="0.6"/>
<path d="M332.0 129.3L331.7 134.3" stroke="#a8aca0" stroke-width="0.8" fill="none"/>
<path d="M326.2 118.0Q328.2 116.2 330.9 115.7Q333.2 115.4 335.2 116.5Q336.9 117.0 337.8 118.6Q338.9 119.3 338.8 120.7Q339.9 121.9 339.6 123.3Q340.6 124.4 340.2 125.4Q340.1 126.7 338.8 127.5Q338.3 128.5 336.7 128.6Q335.8 129.7 334.1 129.6Q333.2 130.8 332.0 130.7Q330.8 130.8 329.9 129.6Q328.8 129.7 328.3 128.6Q326.8 128.8 326.2 128.0Q325.0 128.6 324.9 128.3Q324.1 128.0 324.6 127.0Q324.4 126.5 325.4 125.4Q324.2 123.9 324.4 122.2Q324.0 120.7 324.9 119.6Q325.0 118.4 326.2 118.0Z" fill="#dfeac8" stroke="#a8ac9e" stroke-width="0.6"/>
<path d="M310.0 134.3L309.7 139.3" stroke="#a8aca0" stroke-width="0.8" fill="none"/>
<path d="M304.2 123.0Q306.2 121.2 308.9 120.7Q311.2 120.4 313.2 121.5Q314.9 122.0 315.8 123.6Q316.9 124.3 316.8 125.7Q317.9 126.9 317.6 128.3Q318.6 129.4 318.2 130.4Q318.1 131.7 316.8 132.5Q316.3 133.5 314.7 133.6Q313.8 134.7 312.1 134.6Q311.2 135.8 310.0 135.7Q308.8 135.8 307.9 134.6Q306.8 134.7 306.3 133.6Q304.8 133.8 304.2 133.0Q303.0 133.6 302.9 133.3Q302.1 133.0 302.6 132.0Q302.4 131.5 303.4 130.4Q302.2 128.9 302.4 127.3Q302.0 125.7 302.9 124.6Q303.0 123.4 304.2 123.0Z" fill="#dfeac8" stroke="#a8ac9e" stroke-width="0.6"/>
<path d="M381.7 136.0L381.4 141.0" stroke="#a8aca0" stroke-width="0.8" fill="none"/>
<path d="M375.9 124.7Q377.9 122.9 380.6 122.4Q382.9 122.1 384.9 123.2Q386.6 123.7 387.5 125.3Q388.6 126.0 388.5 127.4Q389.6 128.6 389.3 130.0Q390.3 131.1 389.9 132.1Q389.8 133.4 388.5 134.2Q388.0 135.2 386.4 135.3Q385.5 136.4 383.8 136.3Q382.9 137.5 381.7 137.4Q380.5 137.5 379.6 136.3Q378.5 136.4 378.0 135.3Q376.5 135.5 375.9 134.7Q374.7 135.3 374.6 135.0Q373.8 134.7 374.3 133.7Q374.1 133.2 375.1 132.1Q373.9 130.6 374.1 128.9Q373.7 127.4 374.6 126.3Q374.7 125.1 375.9 124.7Z" fill="#dfeac8" stroke="#a8ac9e" stroke-width="0.6"/>
<path d="M326.5 138.3L326.2 143.3" stroke="#a8aca0" stroke-width="0.8" fill="none"/>
<path d="M320.7 127.0Q322.7 125.2 325.4 124.7Q327.7 124.4 329.7 125.5Q331.4 126.0 332.3 127.6Q333.4 128.3 333.3 129.7Q334.4 130.9 334.1 132.3Q335.1 133.4 334.7 134.4Q334.6 135.7 333.3 136.5Q332.8 137.5 331.2 137.6Q330.3 138.7 328.6 138.6Q327.7 139.8 326.5 139.7Q325.3 139.8 324.4 138.6Q323.3 138.7 322.8 137.6Q321.3 137.8 320.7 137.0Q319.5 137.6 319.4 137.3Q318.6 137.0 319.1 136.0Q318.9 135.5 319.9 134.4Q318.7 132.9 318.9 131.2Q318.5 129.7 319.4 128.6Q319.5 127.4 320.7 127.0Z" fill="#dfeac8" stroke="#a8ac9e" stroke-width="0.6"/>
<path d="M295.0 140.8L294.7 145.8" stroke="#a8aca0" stroke-width="0.8" fill="none"/>
<path d="M289.2 129.5Q291.2 127.7 293.9 127.2Q296.2 126.9 298.2 128.0Q299.9 128.5 300.8 130.1Q301.9 130.8 301.8 132.2Q302.9 133.4 302.6 134.8Q303.6 135.9 303.2 136.9Q303.1 138.2 301.8 139.0Q301.3 140.0 299.7 140.1Q298.8 141.2 297.1 141.1Q296.2 142.3 295.0 142.2Q293.8 142.3 292.9 141.1Q291.8 141.2 291.3 140.1Q289.8 140.3 289.2 139.5Q288.0 140.1 287.9 139.8Q287.1 139.5 287.6 138.5Q287.4 138.0 288.4 136.9Q287.2 135.4 287.4 133.8Q287.0 132.2 287.9 131.1Q288.0 129.9 289.2 129.5Z" fill="#dfeac8" stroke="#a8ac9e" stroke-width="0.6"/>
<path d="M480.7 143.8L480.4 148.8" stroke="#a8aca0" stroke-width="0.8" fill="none"/>
<path d="M474.9 132.5Q476.9 130.7 479.6 130.2Q481.9 129.9 483.9 131.0Q485.6 131.5 486.5 133.1Q487.6 133.8 487.5 135.2Q488.6 136.4 488.3 137.8Q489.3 138.9 488.9 139.9Q488.8 141.2 487.5 142.0Q487.0 143.0 485.4 143.1Q484.5 144.2 482.8 144.1Q481.9 145.3 480.7 145.2Q479.5 145.3 478.6 144.1Q477.5 144.2 477.0 143.1Q475.5 143.3 474.9 142.5Q473.7 143.1 473.6 142.8Q472.8 142.5 473.3 141.5Q473.1 141.0 474.1 139.9Q472.9 138.4 473.1 136.8Q472.7 135.2 473.6 134.1Q473.7 132.9 474.9 132.5Z" fill="#dfeac8" stroke="#a8ac9e" stroke-width="0.6"/>
<path d="M267.0 144.8L266.7 149.8" stroke="#a8aca0" stroke-width="0.8" fill="none"/>
<path d="M261.2 133.5Q263.2 131.7 265.9 131.2Q268.2 130.9 270.2 132.0Q271.9 132.5 272.8 134.1Q273.9 134.8 273.8 136.2Q274.9 137.4 274.6 138.8Q275.6 139.9 275.2 140.9Q275.1 142.2 273.8 143.0Q273.3 144.0 271.7 144.1Q270.8 145.2 269.1 145.1Q268.2 146.3 267.0 146.2Q265.8 146.3 264.9 145.1Q263.8 145.2 263.3 144.1Q261.8 144.3 261.2 143.5Q260.0 144.1 259.9 143.8Q259.1 143.5 259.6 142.5Q259.4 142.0 260.4 140.9Q259.2 139.4 259.4 137.8Q259.0 136.2 259.9 135.1Q260.0 133.9 261.2 133.5Z" fill="#dfeac8" stroke="#a8ac9e" stroke-width="0.6"/>
<path d="M286.0 144.8L285.7 149.8" stroke="#a8aca0" stroke-width="0.8" fill="none"/>
<path d="M280.2 133.5Q282.2 131.7 284.9 131.2Q287.2 130.9 289.2 132.0Q290.9 132.5 291.8 134.1Q292.9 134.8 292.8 136.2Q293.9 137.4 293.6 138.8Q294.6 139.9 294.2 140.9Q294.1 142.2 292.8 143.0Q292.3 144.0 290.7 144.1Q289.8 145.2 288.1 145.1Q287.2 146.3 286.0 146.2Q284.8 146.3 283.9 145.1Q282.8 145.2 282.3 144.1Q280.8 144.3 280.2 143.5Q279.0 144.1 278.9 143.8Q278.1 143.5 278.6 142.5Q278.4 142.0 279.4 140.9Q278.2 139.4 278.4 137.8Q278.0 136.2 278.9 135.1Q279.0 133.9 280.2 133.5Z" fill="#dfeac8" stroke="#a8ac9e" stroke-width="0.6"/>
<path d="M344.0 144.8L343.7 149.8" stroke="#a8aca0" stroke-width="0.8" fill="none"/>
<path d="M338.2 133.5Q340.2 131.7 342.9 131.2Q345.2 130.9 347.2 132.0Q348.9 132.5 349.8 134.1Q350.9 134.8 350.8 136.2Q351.9 137.4 351.6 138.8Q352.6 139.9 352.2 140.9Q352.1 142.2 350.8 143.0Q350.3 144.0 348.7 144.1Q347.8 145.2 346.1 145.1Q345.2 146.3 344.0 146.2Q342.8 146.3 341.9 145.1Q340.8 145.2 340.3 144.1Q338.8 144.3 338.2 143.5Q337.0 144.1 336.9 143.8Q336.1 143.5 336.6 142.5Q336.4 142.0 337.4 140.9Q336.2 139.4 336.4 137.8Q336.0 136.2 336.9 135.1Q337.0 133.9 338.2 133.5Z" fill="#dfeac8" stroke="#a8ac9e" stroke-width="0.6"/>
<path d="M356.7 146.0L356.4 151.0" stroke="#a8aca0" stroke-width="0.8" fill="none"/>
<path d="M350.9 134.7Q352.9 132.9 355.6 132.4Q357.9 132.1 359.9 133.2Q361.6 133.7 362.5 135.3Q363.6 136.0 363.5 137.4Q364.6 138.6 364.3 140.0Q365.3 141.1 364.9 142.1Q364.8 143.4 363.5 144.2Q363.0 145.2 361.4 145.3Q360.5 146.4 358.8 146.3Q357.9 147.5 356.7 147.4Q355.5 147.5 354.6 146.3Q353.5 146.4 353.0 145.3Q351.5 145.5 350.9 144.7Q349.7 145.3 349.6 145.0Q348.8 144.7 349.3 143.7Q349.1 143.2 350.1 142.1Q348.9 140.6 349.1 138.9Q348.7 137.4 349.6 136.3Q349.7 135.1 350.9 134.7Z" fill="#dfeac8" stroke="#a8ac9e" stroke-width="0.6"/>
<path d="M260.8 156.8L260.5 161.8" stroke="#a8aca0" stroke-width="0.8" fill="none"/>
<path d="M255.0 145.5Q257.0 143.7 259.8 143.2Q262.0 142.9 264.0 144.0Q265.7 144.5 266.6 146.1Q267.7 146.8 267.6 148.2Q268.7 149.4 268.4 150.8Q269.4 151.9 269.0 152.9Q268.9 154.2 267.6 155.0Q267.1 156.0 265.5 156.1Q264.6 157.2 262.9 157.1Q262.0 158.3 260.8 158.2Q259.6 158.3 258.7 157.1Q257.6 157.2 257.1 156.1Q255.6 156.3 255.0 155.5Q253.8 156.1 253.7 155.8Q252.9 155.5 253.4 154.5Q253.2 154.0 254.2 152.9Q253.0 151.4 253.2 149.8Q252.8 148.2 253.7 147.1Q253.8 145.9 255.0 145.5Z" fill="#dfeac8" stroke="#a8ac9e" stroke-width="0.6"/>
<path d="M190.8 158.5L190.5 163.5" stroke="#a8aca0" stroke-width="0.8" fill="none"/>
<path d="M185.0 147.2Q187.0 145.4 189.8 144.9Q192.0 144.6 194.0 145.7Q195.7 146.2 196.6 147.8Q197.7 148.5 197.6 149.9Q198.7 151.1 198.4 152.5Q199.4 153.6 199.0 154.6Q198.9 155.9 197.6 156.7Q197.1 157.7 195.5 157.8Q194.6 158.9 192.9 158.8Q192.0 160.0 190.8 159.9Q189.6 160.0 188.7 158.8Q187.6 158.9 187.1 157.8Q185.6 158.0 185.0 157.2Q183.8 157.8 183.7 157.5Q182.9 157.2 183.4 156.2Q183.2 155.7 184.2 154.6Q183.0 153.1 183.2 151.4Q182.8 149.9 183.7 148.8Q183.8 147.6 185.0 147.2Z" fill="#dfeac8" stroke="#a8ac9e" stroke-width="0.6"/>
<path d="M243.7 160.1L243.4 165.1" stroke="#a8aca0" stroke-width="0.8" fill="none"/>
<path d="M237.9 148.8Q239.9 147.0 242.6 146.5Q244.9 146.2 246.9 147.3Q248.6 147.8 249.5 149.4Q250.6 150.1 250.5 151.5Q251.6 152.7 251.3 154.1Q252.3 155.2 251.9 156.2Q251.8 157.5 250.5 158.3Q250.0 159.3 248.4 159.4Q247.5 160.5 245.8 160.4Q244.9 161.6 243.7 161.5Q242.5 161.6 241.6 160.4Q240.5 160.5 240.0 159.4Q238.5 159.6 237.9 158.8Q236.7 159.4 236.6 159.1Q235.8 158.8 236.3 157.8Q236.1 157.3 237.1 156.2Q235.9 154.7 236.1 153.1Q235.7 151.5 236.6 150.4Q236.7 149.2 237.9 148.8Z" fill="#dfeac8" stroke="#a8ac9e" stroke-width="0.6"/>
<path d="M204.2 161.0L203.9 166.0" stroke="#a8aca0" stroke-width="0.8" fill="none"/>
<path d="M198.4 149.7Q200.4 147.9 203.1 147.4Q205.4 147.1 207.4 148.2Q209.1 148.7 210.0 150.3Q211.1 151.0 211.0 152.4Q212.1 153.6 211.8 155.0Q212.8 156.1 212.4 157.1Q212.3 158.4 211.0 159.2Q210.5 160.2 208.9 160.3Q208.0 161.4 206.3 161.3Q205.4 162.5 204.2 162.4Q203.0 162.5 202.1 161.3Q201.0 161.4 200.5 160.3Q199.0 160.5 198.4 159.7Q197.2 160.3 197.1 160.0Q196.3 159.7 196.8 158.7Q196.6 158.2 197.6 157.1Q196.4 155.6 196.6 153.9Q196.2 152.4 197.1 151.3Q197.2 150.1 198.4 149.7Z" fill="#dfeac8" stroke="#a8ac9e" stroke-width="0.6"/>
<path d="M259.2 166.8L258.9 171.8" stroke="#a8aca0" stroke-width="0.8" fill="none"/>
<path d="M253.4 155.5Q255.4 153.7 258.1 153.2Q260.4 152.9 262.4 154.0Q264.1 154.5 265.0 156.1Q266.1 156.8 266.0 158.2Q267.1 159.4 266.8 160.8Q267.8 161.9 267.4 162.9Q267.3 164.2 266.0 165.0Q265.5 166.0 263.9 166.1Q263.0 167.2 261.3 167.1Q260.4 168.3 259.2 168.2Q258.0 168.3 257.1 167.1Q256.0 167.2 255.5 166.1Q254.0 166.3 253.4 165.5Q252.2 166.1 252.1 165.8Q251.3 165.5 251.8 164.5Q251.6 164.0 252.6 162.9Q251.4 161.4 251.6 159.8Q251.2 158.2 252.1 157.1Q252.2 155.9 253.4 155.5Z" fill="#dfeac8" stroke="#a8ac9e" stroke-width="0.6"/>
<path d="M173.3 167.6L173.0 172.6" stroke="#a8aca0" stroke-width="0.8" fill="none"/>
<path d="M167.5 156.3Q169.5 154.5 172.2 154.0Q174.5 153.7 176.5 154.8Q178.2 155.3 179.1 156.9Q180.2 157.6 180.1 159.0Q181.2 160.2 180.9 161.6Q181.9 162.7 181.5 163.7Q181.4 165.0 180.1 165.8Q179.6 166.8 178.0 166.9Q177.1 168.0 175.4 167.9Q174.5 169.1 173.3 169.0Q172.1 169.1 171.2 167.9Q170.1 168.0 169.6 166.9Q168.1 167.1 167.5 166.3Q166.3 166.9 166.2 166.6Q165.4 166.3 165.9 165.3Q165.7 164.8 166.7 163.7Q165.5 162.2 165.7 160.6Q165.3 159.0 166.2 157.9Q166.3 156.7 167.5 156.3Z" fill="#dfeac8" stroke="#a8ac9e" stroke-width="0.6"/>
<path d="M306.7 167.6L306.4 172.6" stroke="#a8aca0" stroke-width="0.8" fill="none"/>
<path d="M300.9 156.3Q302.9 154.5 305.6 154.0Q307.9 153.7 309.9 154.8Q311.6 155.3 312.5 156.9Q313.6 157.6 313.5 159.0Q314.6 160.2 314.3 161.6Q315.3 162.7 314.9 163.7Q314.8 165.0 313.5 165.8Q313.0 166.8 311.4 166.9Q310.5 168.0 308.8 167.9Q307.9 169.1 306.7 169.0Q305.5 169.1 304.6 167.9Q303.5 168.0 303.0 166.9Q301.5 167.1 300.9 166.3Q299.7 166.9 299.6 166.6Q298.8 166.3 299.3 165.3Q299.1 164.8 300.1 163.7Q298.9 162.2 299.1 160.6Q298.7 159.0 299.6 157.9Q299.7 156.7 300.9 156.3Z" fill="#dfeac8" stroke="#a8ac9e" stroke-width="0.6"/>
<path d="M225.3 170.1L225.0 175.1" stroke="#a8aca0" stroke-width="0.8" fill="none"/>
<path d="M219.5 158.8Q221.5 157.0 224.2 156.5Q226.5 156.2 228.5 157.3Q230.2 157.8 231.1 159.4Q232.2 160.1 232.1 161.5Q233.2 162.7 232.9 164.1Q233.9 165.2 233.5 166.2Q233.4 167.5 232.1 168.3Q231.6 169.3 230.0 169.4Q229.1 170.5 227.4 170.4Q226.5 171.6 225.3 171.5Q224.1 171.6 223.2 170.4Q222.1 170.5 221.6 169.4Q220.1 169.6 219.5 168.8Q218.3 169.4 218.2 169.1Q217.4 168.8 217.9 167.8Q217.7 167.3 218.7 166.2Q217.5 164.7 217.7 163.1Q217.3 161.5 218.2 160.4Q218.3 159.2 219.5 158.8Z" fill="#dfeac8" stroke="#a8ac9e" stroke-width="0.6"/>
<path d="M185.8 171.0L185.5 176.0" stroke="#a8aca0" stroke-width="0.8" fill="none"/>
<path d="M180.0 159.7Q182.0 157.9 184.8 157.4Q187.0 157.1 189.0 158.2Q190.7 158.7 191.6 160.3Q192.7 161.0 192.6 162.4Q193.7 163.6 193.4 165.0Q194.4 166.1 194.0 167.1Q193.9 168.4 192.6 169.2Q192.1 170.2 190.5 170.3Q189.6 171.4 187.9 171.3Q187.0 172.5 185.8 172.4Q184.6 172.5 183.7 171.3Q182.6 171.4 182.1 170.3Q180.6 170.5 180.0 169.7Q178.8 170.3 178.7 170.0Q177.9 169.7 178.4 168.7Q178.2 168.2 179.2 167.1Q178.0 165.6 178.2 163.9Q177.8 162.4 178.7 161.3Q178.8 160.1 180.0 159.7Z" fill="#dfeac8" stroke="#a8ac9e" stroke-width="0.6"/>
<path d="M157.5 176.0L157.2 181.0" stroke="#a8aca0" stroke-width="0.8" fill="none"/>
<path d="M151.7 164.7Q153.7 162.9 156.4 162.4Q158.7 162.1 160.7 163.2Q162.4 163.7 163.3 165.3Q164.4 166.0 164.3 167.4Q165.4 168.6 165.1 170.0Q166.1 171.1 165.7 172.1Q165.6 173.4 164.3 174.2Q163.8 175.2 162.2 175.3Q161.3 176.4 159.6 176.3Q158.7 177.5 157.5 177.4Q156.3 177.5 155.4 176.3Q154.3 176.4 153.8 175.3Q152.3 175.5 151.7 174.7Q150.5 175.3 150.4 175.0Q149.6 174.7 150.1 173.7Q149.9 173.2 150.9 172.1Q149.7 170.6 149.9 168.9Q149.5 167.4 150.4 166.3Q150.5 165.1 151.7 164.7Z" fill="#dfeac8" stroke="#a8ac9e" stroke-width="0.6"/>
<path d="M296.7 181.0L296.4 186.0" stroke="#a8aca0" stroke-width="0.8" fill="none"/>
<path d="M290.9 169.7Q292.9 167.9 295.6 167.4Q297.9 167.1 299.9 168.2Q301.6 168.7 302.5 170.3Q303.6 171.0 303.5 172.4Q304.6 173.6 304.3 175.0Q305.3 176.1 304.9 177.1Q304.8 178.4 303.5 179.2Q303.0 180.2 301.4 180.3Q300.5 181.4 298.8 181.3Q297.9 182.5 296.7 182.4Q295.5 182.5 294.6 181.3Q293.5 181.4 293.0 180.3Q291.5 180.5 290.9 179.7Q289.7 180.3 289.6 180.0Q288.8 179.7 289.3 178.7Q289.1 178.2 290.1 177.1Q288.9 175.6 289.1 173.9Q288.7 172.4 289.6 171.3Q289.7 170.1 290.9 169.7Z" fill="#dfeac8" stroke="#a8ac9e" stroke-width="0.6"/>
<path d="M217.5 181.8L217.2 186.8" stroke="#a8aca0" stroke-width="0.8" fill="none"/>
<path d="M211.7 170.5Q213.7 168.7 216.4 168.2Q218.7 167.9 220.7 169.0Q222.4 169.5 223.3 171.1Q224.4 171.8 224.3 173.2Q225.4 174.4 225.1 175.8Q226.1 176.9 225.7 177.9Q225.6 179.2 224.3 180.0Q223.8 181.0 222.2 181.1Q221.3 182.2 219.6 182.1Q218.7 183.3 217.5 183.2Q216.3 183.3 215.4 182.1Q214.3 182.2 213.8 181.1Q212.3 181.3 211.7 180.5Q210.5 181.1 210.4 180.8Q209.6 180.5 210.1 179.5Q209.9 179.0 210.9 177.9Q209.7 176.4 209.9 174.8Q209.5 173.2 210.4 172.1Q210.5 170.9 211.7 170.5Z" fill="#dfeac8" stroke="#a8ac9e" stroke-width="0.6"/>
<path d="M258.3 181.8L258.0 186.8" stroke="#a8aca0" stroke-width="0.8" fill="none"/>
<path d="M252.5 170.5Q254.5 168.7 257.2 168.2Q259.5 167.9 261.5 169.0Q263.2 169.5 264.1 171.1Q265.2 171.8 265.1 173.2Q266.2 174.4 265.9 175.8Q266.9 176.9 266.5 177.9Q266.4 179.2 265.1 180.0Q264.6 181.0 263.0 181.1Q262.1 182.2 260.4 182.1Q259.5 183.3 258.3 183.2Q257.1 183.3 256.2 182.1Q255.1 182.2 254.6 181.1Q253.1 181.3 252.5 180.5Q251.3 181.1 251.2 180.8Q250.4 180.5 250.9 179.5Q250.7 179.0 251.7 177.9Q250.5 176.4 250.7 174.8Q250.3 173.2 251.2 172.1Q251.3 170.9 252.5 170.5Z" fill="#dfeac8" stroke="#a8ac9e" stroke-width="0.6"/>
<path d="M143.0 190.1L142.7 195.1" stroke="#a8aca0" stroke-width="0.8" fill="none"/>
<path d="M137.2 178.8Q139.2 177.0 141.9 176.5Q144.2 176.2 146.2 177.3Q147.9 177.8 148.8 179.4Q149.9 180.1 149.8 181.5Q150.9 182.7 150.6 184.1Q151.6 185.2 151.2 186.2Q151.1 187.5 149.8 188.3Q149.3 189.3 147.7 189.4Q146.8 190.5 145.1 190.4Q144.2 191.6 143.0 191.5Q141.8 191.6 140.9 190.4Q139.8 190.5 139.3 189.4Q137.8 189.6 137.2 188.8Q136.0 189.4 135.9 189.1Q135.1 188.8 135.6 187.8Q135.4 187.3 136.4 186.2Q135.2 184.7 135.4 183.1Q135.0 181.5 135.9 180.4Q136.0 179.2 137.2 178.8Z" fill="#dfeac8" stroke="#a8ac9e" stroke-width="0.6"/>
<path d="M181.3 192.6L181.0 197.6" stroke="#a8aca0" stroke-width="0.8" fill="none"/>
<path d="M175.5 181.3Q177.5 179.5 180.2 179.0Q182.5 178.7 184.5 179.8Q186.2 180.3 187.1 181.9Q188.2 182.6 188.1 184.0Q189.2 185.2 188.9 186.6Q189.9 187.7 189.5 188.7Q189.4 190.0 188.1 190.8Q187.6 191.8 186.0 191.9Q185.1 193.0 183.4 192.9Q182.5 194.1 181.3 194.0Q180.1 194.1 179.2 192.9Q178.1 193.0 177.6 191.9Q176.1 192.1 175.5 191.3Q174.3 191.9 174.2 191.6Q173.4 191.3 173.9 190.3Q173.7 189.8 174.7 188.7Q173.5 187.2 173.7 185.6Q173.3 184.0 174.2 182.9Q174.3 181.7 175.5 181.3Z" fill="#dfeac8" stroke="#a8ac9e" stroke-width="0.6"/>
<path d="M155.0 197.1L154.7 202.1" stroke="#a8aca0" stroke-width="0.8" fill="none"/>
<path d="M149.2 185.8Q151.2 184.0 153.9 183.5Q156.2 183.2 158.2 184.3Q159.9 184.8 160.8 186.4Q161.9 187.1 161.8 188.5Q162.9 189.7 162.6 191.1Q163.6 192.2 163.2 193.2Q163.1 194.5 161.8 195.3Q161.3 196.3 159.7 196.4Q158.8 197.5 157.1 197.4Q156.2 198.6 155.0 198.5Q153.8 198.6 152.9 197.4Q151.8 197.5 151.3 196.4Q149.8 196.6 149.2 195.8Q148.0 196.4 147.9 196.1Q147.1 195.8 147.6 194.8Q147.4 194.3 148.4 193.2Q147.2 191.7 147.4 190.1Q147.0 188.5 147.9 187.4Q148.0 186.2 149.2 185.8Z" fill="#dfeac8" stroke="#a8ac9e" stroke-width="0.6"/>
<path d="M108.7 198.5L108.4 203.5" stroke="#a8aca0" stroke-width="0.8" fill="none"/>
<path d="M102.9 187.2Q104.9 185.4 107.7 184.9Q109.9 184.6 111.9 185.7Q113.6 186.2 114.5 187.8Q115.6 188.5 115.5 189.9Q116.6 191.1 116.3 192.5Q117.3 193.6 116.9 194.6Q116.8 195.9 115.5 196.7Q115.0 197.7 113.4 197.8Q112.5 198.9 110.8 198.8Q109.9 200.0 108.7 199.9Q107.5 200.0 106.6 198.8Q105.5 198.9 105.0 197.8Q103.5 198.0 102.9 197.2Q101.7 197.8 101.6 197.5Q100.8 197.2 101.3 196.2Q101.1 195.7 102.1 194.6Q100.9 193.1 101.1 191.4Q100.7 189.9 101.6 188.8Q101.7 187.6 102.9 187.2Z" fill="#dfeac8" stroke="#a8ac9e" stroke-width="0.6"/>
<polyline points="469.2,52.5 456.7,75.0 450.0,86.7 447.0,100.0 446.3,110.0 413.0,154.2" fill="none" stroke="#3fe3ec" stroke-width="1.5"/>
<g clip-path="url(#trc)">
<rect x="678.7" y="0" width="162.8" height="240" fill="#f7f195"/>
<rect x="841.5" y="0" width="150" height="240" fill="#ccf55e"/>
<rect x="991.5" y="0" width="103.2" height="240" fill="#a1f9a0"/>
</g>
<line x1="678.6" y1="40.3" x2="678.6" y2="216.5" stroke="#777" stroke-width="1" stroke-dasharray="10.8 4.65" stroke-dashoffset="4.3"/>
<line x1="841.5" y1="40.3" x2="841.5" y2="216.5" stroke="#777" stroke-width="1" stroke-dasharray="10.8 4.65" stroke-dashoffset="4.3"/>
<line x1="991.4" y1="40.3" x2="991.4" y2="216.5" stroke="#777" stroke-width="1" stroke-dasharray="10.8 4.65" stroke-dashoffset="4.3"/>
<line x1="1094.6" y1="40.3" x2="1094.6" y2="216.5" stroke="#777" stroke-width="1" stroke-dasharray="10.8 4.65" stroke-dashoffset="4.3"/>
<polyline points="711.0,177.6 920.2,120.5 972.0,92.1 1060.0,82.5 1024.2,72.0 1055.0,63.8 1023.3,57.1 1043.3,49.5" fill="none" stroke="#4a4a4a" stroke-width="5" stroke-linejoin="miter" stroke-miterlimit="3"/>
<polyline points="711.0,178.4 800.0,174.5 938.7,128.0 1033.0,109.2" fill="none" stroke="#4a4a4a" stroke-width="5" stroke-linejoin="miter" stroke-miterlimit="3"/>
<polygon points="1030.0,107.5 1033.3,107.0 1058.7,122.7 1060.0,156.0 1036.7,151.3 1046.7,125.3 1032.7,111.3 1030.0,111.8" fill="#fff" stroke="#4a4a4a" stroke-width="0.7"/>
<polyline points="711.0,177.6 920.2,120.5 972.0,92.1 1060.0,82.5 1024.2,72.0 1055.0,63.8 1023.3,57.1 1043.3,49.5" fill="none" stroke="#fff" stroke-width="3.7" stroke-linejoin="miter" stroke-miterlimit="3"/>
<polyline points="711.0,178.4 800.0,174.5 938.7,128.0 1033.0,109.2" fill="none" stroke="#fff" stroke-width="3.7" stroke-linejoin="miter" stroke-miterlimit="3"/>
<polyline points="1017.5,48.1 1006.0,69.0 1000.0,81.0 998.5,93.0 996.0,108.0 986.5,120.0 973.2,135.0 961.6,149.8" fill="none" stroke="#3fe3ec" stroke-width="0.9"/>
<polygon points="604.0,207.0 605.8,196.0 740.9,150.0 873.3,100.0 880.0,97.3 908.7,83.0 922.0,71.3 990.7,50.0 1017.5,48.1 1049.2,49.3 1093.0,79.5 1135.3,140.0 1137.3,149.3 1127.3,157.3 1073.3,158.0 1036.7,151.3 999.3,146.0 991.9,146.8 961.6,149.8 919.3,172.0 872.0,180.0 841.6,186.5 766.7,201.7 700.5,208.8" fill="none" stroke="#111" stroke-width="1.4" stroke-linejoin="round"/>
<g clip-path="url(#blc)" fill="none" stroke="#444" stroke-width="0.5">
<path d="M70.7 394.8L69.0 392.9L67.4 390.5L65.8 387.5L63.9 383.5L40.0 324.1"/>
<path d="M599.8 349.6L540.0 349.8L524.0 348.9L490.0 341.0L449.0 334.2L412.5 338.8L388.0 353.3L369.2 363.4L322.0 371.9L300.0 377.6L281.0 381.6L260.0 385.5L219.5 394.0L213.5 394.8"/>
<path d="M78.3 394.8L75.6 393.0L73.4 390.8L71.2 387.6L69.1 383.2L64.1 371.5L40.0 311.2"/>
<path d="M599.8 347.5L540.0 347.7L524.0 346.9L490.0 339.4L449.0 332.5L412.5 337.1L388.0 351.2L369.2 361.3L322.0 369.9L300.0 375.3L281.0 379.3L260.0 383.2L219.5 391.6L193.7 394.8"/>
<path d="M90.6 394.8L87.5 394.1L85.0 393.4L82.8 392.5L80.8 391.3L79.0 389.9L77.5 388.2L76.1 386.2L74.7 383.8L72.4 379.0L69.2 371.2L40.0 298.4"/>
<path d="M599.8 345.3L540.0 345.5L524.0 344.9L490.0 337.7L449.0 330.9L412.5 335.3L388.0 349.2L369.2 359.2L322.0 367.8L300.0 373.0L281.0 377.0L260.0 380.9L219.5 389.1L174.1 394.8"/>
<path d="M599.8 343.1L540.0 343.3L524.0 342.9L490.0 336.0L449.0 329.2L412.5 333.5L388.0 347.1L369.2 357.0L322.0 365.8L300.0 370.8L219.5 386.7L156.8 394.4L114.8 393.7L105.5 393.3L98.8 392.8L94.8 392.3L91.5 391.6L88.6 390.8L86.2 389.7L84.2 388.4L82.5 386.8L80.9 384.8L79.2 382.0L76.8 377.0L73.4 369.0L40.0 285.5"/>
<path d="M599.8 341.0L540.0 341.2L524.0 340.8L490.0 334.4L449.0 327.5L412.5 331.7L388.0 345.1L369.2 354.9L322.0 363.7L300.0 368.5L219.5 384.3L156.8 391.9L117.0 391.2L108.0 390.8L101.5 390.2L97.8 389.6L94.8 389.0L92.0 388.0L89.8 386.8L87.9 385.5L86.2 383.8L84.5 381.5L83.0 378.9L80.7 374.0L77.2 365.5L40.0 272.6"/>
<path d="M599.8 338.8L540.0 339.0L524.0 338.8L490.0 332.7L449.0 325.9L412.5 330.0L369.2 352.8L322.0 361.7L300.0 366.2L219.5 381.8L156.8 389.3L119.2 388.6L110.5 388.2L104.2 387.6L100.9 387.0L98.0 386.2L95.5 385.2L93.3 384.0L91.5 382.5L89.9 380.8L88.3 378.5L86.8 375.8L84.5 370.7L80.9 362.0L40.0 259.8"/>
<path d="M599.8 336.6L524.0 336.8L449.0 324.2L412.5 328.2L369.2 350.7L219.5 379.4L156.8 386.8L121.8 386.1L113.2 385.7L107.2 385.0L104.0 384.3L101.3 383.5L99.0 382.5L97.0 381.2L95.2 379.7L93.6 377.8L92.2 375.5L90.6 372.5L84.5 358.2L40.0 246.9"/>
<path d="M599.8 334.5L524.0 334.8L449.0 322.6L412.5 326.4L369.2 348.5L219.5 377.0L156.8 384.2L124.5 383.6L116.5 383.1L110.5 382.4L107.5 381.7L105.0 380.9L102.8 379.9L100.8 378.5L99.1 377.0L97.5 375.0L96.1 372.8L94.5 369.7L88.4 355.2L40.0 234.2"/>
<path d="M599.8 332.3L540.0 332.5L524.0 332.8L490.0 327.7L449.0 320.9L412.5 324.6L369.2 346.4L322.0 355.6L300.0 359.4L219.5 374.5L156.8 381.7L127.0 381.1L119.2 380.5L113.6 379.8L110.8 379.0L108.2 378.1L106.2 377.1L104.4 375.8L102.8 374.1L101.3 372.2L99.8 369.8L98.2 366.7L92.0 351.8L40.0 221.8"/>
<path d="M599.8 330.1L540.0 330.3L524.0 330.8L490.0 326.0L449.0 319.3L435.0 320.6L412.5 322.9L388.0 334.8L369.2 344.3L322.0 353.5L300.0 357.2L219.5 372.1L156.8 379.1L129.8 378.5L122.5 378.0L117.2 377.2L114.5 376.5L112.0 375.6L110.0 374.5L108.2 373.2L106.6 371.5L105.1 369.5L103.7 367.0L102.0 363.8L95.8 348.8L42.3 215.0"/>
<path d="M599.8 328.0L540.0 328.2L524.0 328.7L490.0 324.3L449.0 317.6L412.5 321.1L388.0 332.8L369.2 342.2L322.0 351.5L300.0 354.9L281.0 358.3L260.0 362.4L219.2 369.7L156.8 376.6L133.2 376.0L126.5 375.5L121.4 374.8L118.5 374.0L116.2 373.2L114.2 372.2L112.3 370.8L110.8 369.2L109.2 367.2L107.8 364.8L106.2 361.5L100.0 346.7L47.3 215.0"/>
<path d="M599.8 325.8L540.0 326.0L524.0 326.7L490.0 322.7L449.0 315.9L412.5 319.3L388.0 330.7L369.2 340.1L322.0 349.4L300.0 352.6L281.0 355.9L260.0 360.0L219.2 367.3L156.8 374.0L136.5 373.5L130.2 373.0L125.5 372.3L122.8 371.6L120.2 370.7L118.2 369.7L116.3 368.2L114.8 366.7L113.3 364.8L111.8 362.2L110.2 359.2L104.1 344.5L52.3 215.0"/>
<path d="M599.8 323.7L540.0 323.8L524.0 324.7L490.0 321.0L449.0 314.3L412.5 317.5L388.0 328.7L369.2 337.9L322.0 347.4L300.0 350.4L281.0 353.6L260.0 357.7L219.2 364.8L156.8 371.4L139.5 370.9L134.0 370.5L129.5 369.8L126.8 369.1L124.2 368.2L122.2 367.2L120.3 365.8L118.8 364.2L117.3 362.2L114.3 356.8L108.1 342.0L57.3 215.0"/>
<path d="M599.8 321.5L540.0 321.7L524.0 322.7L490.0 319.3L449.0 312.6L412.5 315.8L388.0 326.6L369.2 335.8L322.0 345.3L300.0 348.1L281.0 351.3L260.0 355.4L219.2 362.4L190.0 365.6L156.8 368.9L142.2 368.3L137.5 367.9L133.5 367.3L130.8 366.6L128.2 365.7L126.2 364.7L124.3 363.2L122.8 361.7L121.3 359.8L118.3 354.2L112.1 339.5L62.3 215.0"/>
<path d="M599.8 319.3L540.0 319.5L524.0 320.7L490.0 317.6L449.0 311.0L412.5 314.0L388.0 324.6L369.2 333.7L322.0 343.3L300.0 345.8L281.0 348.9L260.0 353.1L219.2 360.0L190.0 363.1L156.8 366.3L145.2 365.8L137.8 364.8L135.0 364.2L132.5 363.3L130.4 362.2L128.5 360.9L127.0 359.5L125.4 357.5L123.9 355.0L122.4 352.0L116.2 337.4L67.3 215.0"/>
<path d="M599.8 317.2L540.0 317.3L524.0 318.6L490.0 316.0L449.0 309.3L412.5 312.2L388.0 322.5L369.2 331.6L322.0 341.3L300.0 343.6L281.0 346.6L260.0 350.8L219.2 357.5L190.0 360.6L156.8 363.6L148.0 363.2L141.8 362.3L139.0 361.7L136.5 360.8L134.4 359.8L132.5 358.4L131.0 357.0L129.4 355.0L127.9 352.5L126.4 349.5L120.3 335.0L72.3 215.0"/>
<path d="M599.8 315.0L540.0 315.1L524.0 316.6L490.0 314.3L449.0 307.7L412.5 310.4L388.0 320.5L369.2 329.4L322.0 339.2L300.0 341.3L281.0 344.3L260.0 348.5L219.2 355.1L190.0 358.2L159.8 360.8L156.8 361.0L154.0 360.8L149.5 360.4L145.8 359.8L143.0 359.2L140.5 358.3L138.4 357.2L136.5 355.9L135.0 354.5L133.4 352.5L131.9 350.0L130.4 347.0L124.3 332.5L77.3 215.0"/>
<path d="M599.8 312.8L540.0 313.0L524.0 314.6L507.5 313.8L490.0 312.6L449.0 306.0L412.5 308.6L388.0 318.5L369.2 327.3L322.0 337.2L300.0 339.0L281.0 341.9L260.0 346.2L219.2 352.7L190.0 355.7L164.8 357.8L156.8 358.2L149.8 357.3L147.0 356.7L144.5 355.8L142.4 354.8L140.6 353.5L139.0 352.0L137.5 350.0L136.0 347.6L134.5 344.7L128.4 330.2L82.3 215.0"/>
<path d="M599.8 310.7L540.0 310.8L524.0 312.6L507.5 311.9L490.0 311.0L485.0 310.3L449.0 304.4L435.0 305.2L430.0 305.7L412.5 306.9L388.0 316.4L369.2 325.2L322.0 335.1L300.0 336.8L281.0 339.6L260.0 343.8L219.2 350.2L190.0 353.2L170.8 354.8L159.5 355.3L156.8 355.3L154.0 354.9L151.0 354.2L148.5 353.3L146.4 352.2L144.6 351.0L143.0 349.5L141.5 347.5L138.5 342.2L132.5 328.0L87.3 215.0"/>
<path d="M599.8 308.5L540.0 308.6L524.0 310.6L507.5 310.1L490.0 309.3L485.0 308.6L449.0 302.7L435.0 303.5L430.0 304.0L412.5 305.1L388.0 314.4L369.2 323.1L322.0 333.1L300.0 334.5L281.0 337.2L260.0 341.5L219.2 347.8L190.0 350.7L174.5 352.0L163.8 352.4L160.0 352.4L156.8 352.1L154.2 351.4L151.9 350.5L150.0 349.5L148.2 348.2L146.8 346.7L145.2 344.7L142.3 339.2L136.3 325.0L92.3 215.0"/>
<path d="M599.8 306.3L540.0 306.5L524.0 308.6L517.2 308.5L490.0 307.6L485.0 307.0L449.0 301.0L435.0 301.8L430.0 302.3L412.5 303.3L388.0 312.3L369.2 320.9L322.0 331.1L300.0 332.2L281.0 334.9L260.0 339.2L219.2 345.4L190.0 348.2L176.2 349.3L166.0 349.6L162.2 349.4L159.3 349.0L156.8 348.4L155.4 347.8L153.5 346.6L151.8 345.2L150.2 343.6L149.0 341.8L146.1 336.2L140.1 322.0L97.3 215.0"/>
<path d="M599.8 304.2L540.0 304.3L524.0 306.5L510.2 306.5L490.0 305.9L485.0 305.3L449.0 299.4L435.0 300.1L430.0 300.6L412.5 301.5L388.0 310.3L369.2 318.8L322.0 329.0L300.0 329.9L281.0 332.6L260.0 336.9L219.2 342.9L190.0 345.7L180.0 346.4L170.0 346.7L166.2 346.6L163.2 346.2L161.0 345.6L159.0 344.9L157.2 343.9L155.8 342.8L154.4 341.2L153.0 339.2L150.2 334.0L144.3 320.0L102.3 215.0"/>
<path d="M599.8 302.0L540.0 302.1L524.0 304.5L503.8 304.5L490.0 304.3L485.0 303.6L449.0 297.7L435.0 298.3L430.0 298.9L412.5 299.8L388.0 308.2L369.2 316.7L322.0 327.0L300.0 327.7L281.0 330.2L260.0 334.6L219.2 340.5L192.8 343.0L183.8 343.6L173.8 343.9L170.2 343.7L167.2 343.3L165.0 342.8L163.0 342.1L161.2 341.2L159.7 340.0L158.3 338.5L157.0 336.8L154.2 331.5L148.3 317.5L107.3 215.0"/>
<path d="M599.8 299.8L540.0 300.0L524.0 302.5L511.0 302.7L497.5 302.7L490.0 302.6L485.0 302.0L449.0 296.1L435.0 296.6L430.0 297.2L412.5 298.0L388.0 306.2L369.2 314.6L322.0 324.9L300.0 325.4L281.0 327.9L260.0 332.3L219.2 338.1L197.0 340.1L187.2 340.9L177.8 341.1L174.2 340.9L171.2 340.5L169.0 340.0L167.0 339.3L165.2 338.4L163.7 337.2L162.2 335.8L160.9 334.0L158.2 329.0L152.4 315.2L112.3 215.0"/>
<path d="M599.8 297.7L540.0 297.8L524.0 300.5L508.5 300.9L491.8 300.9L490.0 300.9L485.0 300.3L449.0 294.4L435.0 294.9L430.0 295.5L412.5 296.2L388.0 304.1L369.2 312.4L322.0 322.9L300.0 323.1L281.0 325.6L260.0 330.0L219.2 335.6L190.0 338.1L181.2 338.3L175.2 337.8L172.9 337.2L170.8 336.5L169.0 335.5L167.5 334.4L166.1 333.0L164.8 331.2L162.1 326.2L156.4 312.8L117.3 215.0"/>
<path d="M599.8 295.5L540.0 295.6L524.0 298.5L507.5 299.1L490.0 299.3L485.0 298.7L449.0 292.8L435.0 293.2L430.0 293.8L412.5 294.4L388.0 302.1L369.2 310.3L322.0 320.8L300.0 320.9L281.0 323.2L260.0 327.6L219.2 333.2L201.0 334.8L190.8 335.5L184.2 335.5L179.2 335.0L177.0 334.5L174.8 333.8L173.0 332.8L171.6 331.8L170.1 330.2L168.8 328.5L166.1 323.8L160.5 310.5L122.3 215.0"/>
<path d="M599.8 293.3L540.0 293.5L524.0 296.4L507.5 297.2L490.0 297.6L485.0 297.0L449.0 291.1L435.0 291.5L430.0 292.1L412.5 292.7L388.0 300.0L369.2 308.2L322.0 318.8L300.0 318.6L281.0 320.9L260.0 325.3L219.5 330.7L204.0 332.1L194.5 332.7L188.5 332.7L183.2 332.2L180.9 331.8L178.8 331.0L177.0 330.1L175.5 329.0L174.0 327.5L172.8 325.9L170.0 321.0L164.4 307.8L127.3 215.0"/>
<path d="M599.8 291.2L540.0 291.3L524.0 294.4L507.5 295.4L490.0 295.9L485.0 295.3L449.0 289.5L435.0 289.8L430.0 290.3L412.5 290.9L388.0 298.0L369.2 306.1L322.0 316.8L300.0 316.3L281.0 318.6L260.0 323.0L219.5 328.3L206.2 329.4L197.8 329.9L191.5 329.9L187.2 329.5L184.9 329.0L182.8 328.3L181.0 327.4L179.4 326.2L178.0 324.9L176.7 323.2L174.0 318.4L168.4 305.2L132.3 215.0"/>
<path d="M599.8 289.0L540.0 289.1L524.0 292.4L507.5 293.6L490.0 294.2L485.0 293.7L449.0 287.8L435.0 288.1L430.0 288.6L412.5 289.1L388.0 295.9L369.2 304.0L322.0 314.7L300.0 314.1L281.0 316.2L260.0 320.7L219.5 325.9L200.8 327.1L195.0 327.1L190.8 326.7L188.5 326.2L186.6 325.5L184.8 324.6L183.2 323.5L181.8 322.0L180.5 320.3L177.8 315.5L172.3 302.5L137.3 215.0"/>
<path d="M599.8 286.8L540.0 286.9L524.0 290.4L507.5 291.7L490.0 292.6L485.0 292.0L449.0 286.1L435.0 286.4L430.0 286.9L412.5 287.3L388.0 293.9L369.2 301.8L322.0 312.7L300.0 311.8L281.0 313.9L260.0 318.4L219.5 323.4L203.8 324.3L198.8 324.3L194.8 323.9L192.5 323.4L190.4 322.8L188.8 321.9L187.2 320.8L185.8 319.4L184.5 317.8L181.8 313.0L176.4 300.2L142.3 215.0"/>
<path d="M599.8 284.7L540.0 284.8L524.0 288.4L507.5 289.9L490.0 290.9L485.0 290.4L449.0 284.5L435.0 284.6L430.0 285.2L412.5 285.5L388.0 291.8L369.2 299.7L322.0 310.6L300.0 309.5L281.0 311.6L260.0 316.1L224.0 320.4L219.2 320.9L208.8 321.5L203.0 321.5L198.8 321.1L196.5 320.7L194.4 320.0L192.8 319.2L191.1 318.0L189.8 316.7L188.4 315.0L185.8 310.5L180.4 297.8L147.3 215.0"/>
<path d="M599.8 282.5L540.0 282.6L524.0 286.3L507.5 288.0L490.0 289.2L485.0 288.7L449.0 282.8L435.0 282.9L430.0 283.5L412.5 283.8L388.0 289.8L369.2 297.6L322.0 308.6L300.0 307.3L281.0 309.2L260.0 313.8L230.5 317.2L219.5 318.4L214.5 318.7L207.8 318.8L202.8 318.4L200.5 317.9L198.4 317.2L196.5 316.3L195.0 315.3L193.7 314.0L192.5 312.5L189.9 308.0L184.5 295.5L152.3 215.0"/>
<path d="M599.8 280.3L540.0 280.4L524.0 284.3L507.5 286.2L490.0 287.6L485.0 287.1L449.0 281.2L435.0 281.2L430.0 281.8L412.5 282.0L388.0 287.7L369.2 295.5L322.0 306.5L300.0 305.0L281.0 306.9L260.0 311.4L239.0 313.9L219.2 315.9L212.0 316.0L206.8 315.6L204.5 315.2L202.4 314.5L200.5 313.6L199.0 312.6L197.6 311.2L196.4 309.8L193.8 305.2L188.5 293.0L157.3 215.0"/>
<path d="M599.8 278.2L540.0 278.3L524.0 282.3L507.5 284.4L490.0 285.9L485.0 285.4L449.0 279.5L435.0 279.5L430.0 280.1L412.5 280.2L388.0 285.7L369.2 293.3L322.0 304.5L300.0 302.7L281.0 304.5L260.0 309.1L255.8 309.6L234.2 312.0L223.0 313.0L216.5 313.2L210.8 312.8L208.2 312.4L206.3 311.8L204.5 310.9L203.0 309.9L201.5 308.5L200.3 307.0L197.8 302.7L192.5 290.5L162.3 215.0"/>
<path d="M599.8 276.0L540.0 276.1L524.0 280.3L507.5 282.5L490.0 284.2L485.0 283.7L449.0 277.9L435.0 277.8L430.0 278.4L412.5 278.4L388.0 283.6L369.2 291.2L322.0 302.5L300.0 300.5L281.0 302.2L260.0 306.8L238.8 309.1L227.5 310.1L219.5 310.5L214.8 310.1L212.2 309.6L210.2 309.0L208.5 308.2L207.0 307.2L205.6 306.0L204.2 304.4L201.7 300.0L196.5 288.0L167.3 215.0"/>
<path d="M599.8 273.8L540.0 273.9L524.0 278.3L507.5 280.7L490.0 282.5L485.0 282.1L449.0 276.2L435.0 276.1L430.0 276.7L412.5 276.7L388.0 281.6L369.2 289.1L322.0 300.4L300.0 298.2L281.0 299.9L260.0 304.5L231.2 307.3L224.0 307.6L218.8 307.4L216.2 306.9L214.2 306.3L212.5 305.5L210.9 304.5L209.5 303.2L208.3 301.8L205.7 297.5L203.6 293.0L200.5 285.5L172.3 215.0"/>
<path d="M599.8 271.7L540.0 271.8L524.0 276.3L507.5 278.8L490.0 280.9L485.0 280.4L449.0 274.6L435.0 274.4L430.0 274.9L412.5 274.9L388.0 279.6L369.2 287.0L322.0 298.4L300.0 295.9L281.0 297.5L260.0 302.2L234.0 304.6L227.0 304.8L222.0 304.5L219.8 304.1L218.0 303.5L216.2 302.7L214.5 301.5L213.2 300.2L212.0 298.8L209.5 294.6L204.4 282.8L177.3 215.0"/>
<path d="M599.8 269.5L540.0 269.6L524.0 274.2L507.6 277.0L490.0 279.2L485.0 278.8L449.0 272.9L435.0 272.6L430.0 273.2L412.5 273.1L400.0 275.5L388.0 277.5L369.2 284.8L322.0 296.3L300.0 293.7L281.0 295.2L260.0 299.9L237.2 301.8L230.8 302.0L226.0 301.7L222.0 300.8L220.2 300.0L218.7 299.0L217.3 297.8L216.0 296.2L213.5 292.0L208.5 280.4L182.3 215.0"/>
<path d="M599.8 267.3L540.0 267.4L523.5 272.3L507.2 275.2L490.0 277.5L485.0 277.1L449.0 271.2L435.0 270.9L430.0 271.5L412.5 271.3L400.0 273.6L388.0 275.5L369.2 282.7L322.0 294.3L310.8 292.9L300.0 291.4L281.0 292.9L260.0 297.5L240.2 299.1L234.5 299.2L230.0 298.9L226.0 298.0L224.2 297.2L222.6 296.2L221.2 295.0L220.0 293.6L217.5 289.5L215.5 285.2L212.5 278.0L187.3 215.0"/>
<path d="M599.8 265.2L540.0 265.3L530.0 268.4L523.0 270.4L507.0 273.4L490.0 275.9L485.0 275.4L449.0 269.6L435.0 269.2L430.0 269.8L412.5 269.6L400.0 271.7L388.0 273.4L369.2 280.6L322.0 292.2L310.8 290.8L300.0 289.1L281.0 290.5L260.0 295.2L243.5 296.4L238.2 296.4L234.2 296.2L229.9 295.2L228.2 294.5L226.6 293.5L225.2 292.4L224.0 291.0L221.5 287.0L219.5 282.8L216.6 275.8L192.3 215.0"/>
<path d="M599.8 263.0L540.0 263.1L529.2 266.6L522.5 268.5L506.8 271.6L490.0 274.2L485.0 273.8L449.0 267.9L435.0 267.5L430.0 268.1L412.5 267.8L400.0 269.7L388.0 271.4L369.2 278.5L322.0 290.2L310.8 288.6L300.0 286.9L281.0 288.2L260.0 292.8L246.5 293.7L242.0 293.7L238.2 293.4L233.9 292.5L232.1 291.8L230.5 290.8L229.2 289.7L227.9 288.2L225.5 284.4L223.5 280.1L220.6 273.2L197.3 215.0"/>
<path d="M599.8 260.8L540.0 260.9L528.5 264.8L522.0 266.6L506.5 269.8L490.0 272.5L485.0 272.1L449.0 266.3L435.0 265.8L430.0 266.4L412.5 266.0L400.0 267.8L388.0 269.3L369.2 276.4L322.0 288.2L310.8 286.5L300.0 284.6L281.0 285.9L260.0 290.5L249.2 291.0L242.2 290.7L239.8 290.3L237.8 289.8L236.0 289.0L234.5 288.1L233.2 287.0L231.8 285.5L229.5 281.8L227.5 277.5L224.6 270.8L202.3 215.0"/>
<path d="M599.8 258.7L540.0 258.7L528.0 262.9L521.5 264.8L506.2 268.1L490.0 270.8L485.0 270.5L449.0 264.6L435.0 264.1L430.0 264.7L412.5 264.2L400.0 265.9L388.0 267.3L369.2 274.2L322.0 286.1L310.8 284.3L300.0 282.3L281.0 283.5L260.0 288.1L252.2 288.3L246.5 288.1L242.0 287.2L240.2 286.5L238.6 285.5L237.2 284.4L235.9 283.0L233.5 279.3L231.5 275.1L228.7 268.5L207.3 215.0"/>
<path d="M599.8 256.5L540.0 256.6L527.4 261.0L521.0 262.9L506.0 266.3L490.0 269.2L485.0 268.8L449.0 263.0L435.0 262.4L430.0 263.0L412.5 262.5L400.0 264.0L388.0 265.2L369.2 272.1L322.0 284.1L310.8 282.2L300.0 280.1L281.0 281.2L260.0 285.6L254.8 285.6L250.5 285.4L246.0 284.5L244.2 283.8L242.8 283.0L241.2 281.8L240.0 280.5L237.5 276.8L235.6 272.8L232.8 266.2L212.3 215.0"/>
<path d="M599.8 254.4L540.0 254.4L527.3 259.0L520.8 261.0L505.8 264.5L490.0 267.5L485.0 267.1L449.0 261.3L435.0 260.7L430.0 261.3L412.5 260.7L400.0 262.1L388.0 263.2L369.2 270.0L322.0 282.0L310.8 280.0L300.0 277.8L281.0 278.8L268.8 281.5L261.0 282.9L259.0 283.0L254.8 282.8L250.2 281.9L248.4 281.2L246.8 280.4L245.3 279.2L244.1 278.0L241.7 274.5L239.7 270.5L237.0 264.2L217.3 215.0"/>
<path d="M599.8 252.2L540.0 252.2L527.0 257.1L520.2 259.1L505.5 262.8L490.0 265.8L485.0 265.5L449.0 259.6L435.0 258.9L430.0 259.5L412.5 258.9L400.0 260.2L388.0 261.1L369.2 267.9L322.0 280.0L310.8 277.9L300.0 275.5L281.0 276.5L266.5 279.4L261.2 280.1L259.0 280.2L254.5 279.4L252.6 278.8L251.0 277.9L249.5 276.9L248.1 275.5L245.7 272.0L243.7 268.0L241.0 261.8L222.3 215.0"/>
<path d="M599.8 250.0L540.0 250.1L527.0 255.0L520.0 257.2L505.5 260.9L490.0 264.2L485.0 263.8L449.0 258.0L435.0 257.2L430.0 257.8L412.5 257.1L400.0 258.3L388.0 259.1L369.2 265.7L322.0 278.0L310.8 275.7L300.0 273.3L281.0 274.1L267.8 276.6L263.5 277.1L260.0 277.1L256.5 276.1L253.8 274.5L251.3 272.0L249.2 268.5L247.3 264.5L244.7 258.5L227.3 215.0"/>
<path d="M599.8 247.9L540.0 247.9L526.5 253.1L519.5 255.4L505.2 259.2L490.0 262.5L485.0 262.2L449.0 256.3L435.0 255.5L430.0 256.1L412.5 255.3L400.0 256.4L388.0 257.0L369.2 263.6L322.0 275.9L310.8 273.6L300.0 271.0L281.0 271.7L270.0 273.6L266.0 274.0L263.0 273.9L260.0 273.3L257.5 271.7L255.2 269.2L253.0 265.8L248.7 256.0L232.3 215.0"/>
<path d="M599.8 245.7L540.0 245.7L526.5 251.1L519.2 253.5L505.0 257.4L490.0 260.8L485.0 260.5L449.0 254.7L435.0 253.8L430.0 254.4L412.5 253.6L400.0 254.5L388.0 255.0L369.2 261.5L322.0 273.9L310.8 271.4L300.0 268.7L281.0 269.2L272.8 270.6L269.5 270.8L267.0 270.7L263.8 270.1L261.2 268.8L259.2 266.8L257.2 263.5L255.4 259.8L252.9 254.0L237.3 215.0"/>
<path d="M599.8 243.5L540.0 243.6L526.7 249.0L519.0 251.6L505.0 255.6L490.0 259.1L485.0 258.9L449.0 253.0L435.0 252.1L430.0 252.7L412.5 251.8L400.0 252.6L388.0 252.9L369.2 259.4L322.0 271.8L310.8 269.2L300.0 266.4L288.5 266.7L281.0 266.7L276.0 267.4L272.0 267.6L269.8 267.4L268.0 267.1L266.5 266.5L265.0 265.6L263.5 264.3L262.2 262.7L260.8 260.2L259.4 257.2L242.3 215.0"/>
<path d="M599.8 241.4L540.0 241.4L526.6 247.0L518.7 249.8L504.8 253.9L490.0 257.5L485.0 257.2L449.0 251.4L435.0 250.4L430.0 251.0L412.5 250.0L400.0 250.6L388.0 250.9L369.2 257.2L322.0 269.8L310.5 267.0L300.0 264.1L288.5 264.3L281.0 264.0L277.8 264.3L275.0 264.4L271.5 263.8L270.1 263.2L268.8 262.5L267.4 261.2L266.0 259.5L264.6 257.2L263.2 254.2L247.3 215.0"/>
<path d="M599.8 239.2L540.0 239.2L526.5 245.0L518.2 248.0L504.5 252.1L490.0 255.8L485.0 255.5L449.0 249.7L435.0 248.7L430.0 249.3L412.5 248.2L400.0 248.7L388.0 248.8L369.2 255.1L322.0 267.7L310.5 264.8L300.0 261.8L288.8 261.8L281.0 261.2L277.8 261.1L274.8 260.4L272.2 259.1L270.8 257.8L269.5 256.0L266.9 251.0L252.3 215.0"/>
<path d="M599.8 237.0L540.0 237.1L526.5 242.9L518.0 246.1L504.5 250.3L490.0 254.1L485.0 253.9L449.0 248.1L435.0 247.0L430.0 247.6L412.5 246.5L400.0 246.8L388.0 246.8L369.2 253.0L322.0 265.7L310.5 262.7L300.0 259.5L291.2 259.3L285.2 258.8L278.8 257.3L277.2 256.7L275.8 255.8L274.5 254.5L273.2 252.8L270.7 248.0L257.3 215.0"/>
<path d="M599.8 234.9L540.0 234.9L526.5 240.9L517.8 244.2L504.2 248.6L490.0 252.5L485.0 252.2L449.0 246.4L435.0 245.2L430.0 245.8L412.5 244.7L400.0 244.9L388.0 244.8L369.2 250.9L322.0 263.6L310.2 260.4L300.0 257.1L292.0 256.7L286.2 255.7L282.8 254.5L279.5 252.5L278.2 251.2L277.0 249.7L274.5 245.0L271.3 237.5L262.3 215.0"/>
<path d="M599.8 232.7L540.0 232.7L526.8 238.8L517.5 242.4L504.2 246.8L490.0 250.8L485.0 250.6L449.0 244.7L435.0 243.5L430.0 244.1L412.5 242.9L400.0 243.0L388.0 242.7L369.2 248.7L322.0 261.6L310.0 258.1L300.0 254.6L294.0 254.1L289.5 253.1L286.5 252.0L283.9 250.2L282.5 248.8L281.3 247.2L279.8 245.0L278.5 242.4L275.4 235.2L267.3 215.0"/>
<path d="M599.8 230.5L540.0 230.5L526.8 236.7L517.3 240.5L504.0 245.1L490.0 249.1L485.0 248.9L449.0 243.1L435.0 241.8L430.0 242.4L412.5 241.1L400.0 241.1L388.0 240.7L369.2 246.6L322.0 259.5L309.8 255.7L300.0 252.0L296.0 251.4L292.8 250.5L290.0 249.3L287.8 247.7L286.4 246.2L285.1 244.5L282.5 239.8L279.4 232.8L272.3 215.0"/>
<path d="M599.8 228.4L540.0 228.4L526.8 234.7L517.0 238.7L503.8 243.3L490.0 247.4L485.0 247.2L449.0 241.4L435.0 240.1L430.0 240.7L412.5 239.4L400.0 239.2L388.0 238.6L369.2 244.5L322.0 257.4L310.8 253.8L305.0 251.5L300.0 249.1L296.0 247.9L293.5 246.6L291.5 245.1L289.0 242.0L286.6 237.5L283.6 230.8L277.3 215.0"/>
<path d="M599.8 226.2L540.0 226.2L526.8 232.6L516.8 236.8L503.8 241.5L490.0 245.8L485.0 245.6L449.0 239.8L435.0 238.4L430.0 239.0L412.5 237.6L400.0 237.3L388.0 236.6L369.2 242.4L322.0 255.3L313.5 252.4L306.7 249.5L303.0 247.5L300.0 245.6L297.8 244.5L295.3 242.5L293.0 239.5L290.7 235.2L288.0 229.0L282.3 215.0"/>
<path d="M599.8 224.0L540.0 224.0L526.9 230.5L516.5 235.0L503.7 239.8L490.0 244.1L485.0 243.9L449.0 238.1L435.0 236.7L430.0 237.3L412.5 235.8L400.0 235.4L388.0 234.5L369.2 240.3L322.0 253.1L313.8 250.0L307.8 247.0L305.4 245.5L303.0 243.8L298.9 239.8L296.9 237.0L294.8 233.0L287.3 215.0"/>
<path d="M599.8 221.9L540.0 221.9L527.2 228.3L516.5 233.1L503.6 238.0L490.0 242.4L485.0 242.3L449.0 236.5L435.0 235.0L430.0 235.6L412.5 234.0L400.0 233.4L388.0 232.5L369.2 238.1L332.4 248.2L322.0 250.8L315.9 248.2L311.3 245.8L307.4 243.0L304.2 239.8L301.8 236.2L299.1 231.2L296.7 225.8L292.3 215.0"/>
<path d="M599.8 219.7L540.0 219.7L527.3 226.2L516.2 231.2L503.4 236.2L490.0 240.8L485.0 240.6L449.0 234.8L435.0 233.2L430.0 233.9L412.5 232.3L400.0 231.5L388.0 230.4L369.2 236.0L338.2 244.5L328.5 247.1L322.0 248.4L317.2 246.0L313.7 243.8L310.8 241.2L308.2 238.2L306.1 235.0L303.9 230.8L297.3 215.0"/>
<path d="M599.8 217.5L540.0 217.5L527.2 224.2L516.0 229.4L503.3 234.5L490.0 239.1L485.0 238.9L449.0 233.2L435.0 231.5L430.0 232.2L412.5 230.5L398.6 229.5L388.0 228.4L369.5 233.8L337.0 242.7L328.0 244.8L324.8 245.3L322.0 245.5L318.8 243.5L316.2 241.5L314.1 239.2L312.0 236.5L310.3 233.5L308.3 229.5L302.3 215.0"/>
<path d="M599.8 215.4L540.0 215.4L527.5 222.0L515.8 227.6L503.2 232.8L490.0 237.4L485.0 237.3L449.0 231.5L435.0 229.8L430.0 230.4L412.5 228.7L399.8 227.7L388.0 226.3L370.5 231.4L340.0 239.8L331.2 241.7L328.0 242.2L325.5 242.4L323.5 242.3L322.0 241.9L319.4 239.5L317.1 236.5L315.3 233.5L313.3 229.5L307.3 215.0"/>
<path d="M536.8 215.0L525.0 221.3L514.0 226.4L502.2 231.3L490.0 235.7L485.0 235.6L449.0 229.8L435.0 228.1L430.0 228.7L400.8 225.9L388.0 224.3L372.5 228.7L343.1 236.8L334.8 238.6L329.2 239.2L327.0 239.1L325.0 238.5L323.5 237.7L322.0 236.3L320.2 233.2L318.3 229.5L312.3 215.0"/>
<path d="M533.0 215.0L522.0 220.7L512.0 225.4L501.2 229.9L490.0 234.1L485.0 234.0L449.0 228.2L435.0 226.4L430.0 227.0L401.8 224.1L388.0 222.2L346.2 233.7L338.2 235.5L333.0 236.0L330.5 235.8L328.5 235.2L326.8 234.1L325.2 232.5L323.9 230.5L322.5 227.5L317.3 215.0"/>
<path d="M529.2 215.0L519.5 220.0L510.2 224.3L500.4 228.5L490.0 232.4L485.0 232.3L449.0 226.5L435.0 224.7L430.0 225.3L402.5 222.3L388.0 220.2L349.2 230.8L341.8 232.4L336.8 232.9L334.5 232.7L332.5 232.2L330.8 231.2L329.2 229.7L328.0 227.9L326.6 225.2L322.3 215.0"/>
<path d="M525.3 215.0L516.8 219.4L508.2 223.4L499.2 227.2L490.0 230.7L485.0 230.7L449.0 224.9L435.0 223.0L430.0 223.6L403.5 220.5L388.0 218.1L351.2 228.0L344.0 229.4L341.2 229.7L339.0 229.6L337.0 229.2L335.5 228.6L334.2 227.8L333.0 226.5L331.8 224.8L330.6 222.5L327.3 215.0"/>
<path d="M521.5 215.0L514.0 218.8L506.2 222.4L498.2 225.8L490.0 229.1L485.0 229.0L449.0 223.2L435.0 221.3L429.5 221.8L404.2 218.8L388.0 216.1L354.2 225.0L347.5 226.3L345.0 226.5L342.8 226.4L341.0 226.1L339.5 225.6L338.2 224.8L337.1 223.8L336.0 222.4L334.9 220.5L332.4 215.0"/>
<path d="M384.5 215.0L357.8 221.9L352.0 223.0L348.0 223.3L346.2 223.2L344.5 222.9L343.0 222.3L341.8 221.5L340.8 220.5L339.6 219.0L337.5 215.0"/>
<path d="M517.8 215.0L504.3 221.5L490.0 227.4L485.0 227.3L449.0 221.6L435.0 219.5L430.0 220.2L407.5 217.4L392.9 215.0"/>
<path d="M376.5 215.0L359.5 219.1L355.2 219.8L351.8 220.1L348.8 219.8L346.5 219.0L344.5 217.3L342.8 215.0"/>
<path d="M514.0 215.0L502.2 220.6L490.0 225.7L485.0 225.7L435.0 217.8L430.0 218.5L414.8 216.6L404.0 215.0"/>
<path d="M367.3 215.0L360.2 216.5L355.5 216.9L353.5 216.8L352.0 216.5L350.5 215.9L349.1 215.0"/>
<path d="M510.3 215.0L500.2 219.7L490.0 224.0L485.0 224.0L435.0 216.1L430.0 216.8L416.3 215.0"/>
<path d="M430.3 215.0L429.7 215.0"/>
<path d="M506.5 215.0L498.5 218.8L490.0 222.4L485.0 222.4L438.8 215.0"/>
<path d="M502.8 215.0L490.0 220.7L485.0 220.7L449.4 215.0"/>
<path d="M499.0 215.0L490.0 219.0L485.0 219.0L459.7 215.0"/>
</g>
<polygon points="209.0,331.7 216.2,327.8 240.0,326.5 259.7,325.7 280.8,321.8 311.7,321.6 319.0,323.0 318.3,325.5 296.6,327.1 270.3,333.0 240.0,332.4" fill="#fff"/>
<polygon points="166.5,342.5 180.0,338.5 209.0,335.7 240.0,337.0 270.3,337.6 296.6,331.7 319.0,329.5 327.5,333.7 305.8,335.3 275.5,342.5 240.0,344.0 206.5,344.6 185.0,341.5" fill="#fff"/>
<polygon points="141.7,354.0 155.0,349.0 166.5,346.0 185.0,345.0 206.5,349.0 240.0,348.0 262.0,346.0 251.2,352.1 240.0,353.3 183.0,355.0" fill="#fff"/>
<polygon points="130.0,362.0 137.0,359.0 141.7,357.6 183.0,358.3 240.0,357.0 251.2,355.8 262.0,355.0 260.4,358.0 240.0,362.3 223.3,365.0 183.3,366.3 140.0,364.2" fill="#fff"/>
<polygon points="330.0,313.0 345.0,308.5 396.0,283.2 433.3,280.8 480.0,290.2 473.0,293.7 435.7,287.8 397.8,291.3 356.3,312.3 340.0,316.0" fill="#fff"/>
<polygon points="503.2,286.0 504.5,279.7 530.0,278.8 558.4,281.7 559.1,285.7" fill="#fff"/>
<polygon points="216.2,324.5 240.0,323.2 259.7,322.5 280.8,318.6 311.7,318.6 311.7,321.6 280.8,321.8 259.7,325.7 240.0,326.5 216.2,327.8" fill="#b1a176" stroke="#958560" stroke-width="0.4"/>
<polygon points="209.0,331.7 240.0,332.4 270.3,333.0 296.6,327.1 318.3,325.5 319.0,329.5 296.6,331.7 270.3,337.6 240.0,337.0 209.0,335.7" fill="#b1a176" stroke="#958560" stroke-width="0.4"/>
<polygon points="166.5,342.5 185.0,341.5 206.5,344.6 240.0,344.0 275.5,342.5 305.8,335.3 327.5,333.7 327.5,336.8 305.8,338.6 275.5,346.4 240.0,348.0 206.5,349.0 185.0,345.0 166.5,346.0" fill="#b1a176" stroke="#958560" stroke-width="0.4"/>
<polygon points="141.7,354.0 183.0,355.0 240.0,353.3 251.2,352.1 251.2,355.8 240.0,357.0 183.0,358.3 141.7,357.6" fill="#b1a176" stroke="#958560" stroke-width="0.4"/>
<polygon points="130.0,362.0 140.0,364.2 183.3,366.3 223.3,365.0 240.0,362.3 260.4,358.0 261.0,361.3 240.0,365.8 223.3,368.3 183.3,369.4 140.0,367.5 130.0,365.2" fill="#b1a176" stroke="#958560" stroke-width="0.4"/>
<polygon points="356.3,312.3 397.8,291.3 435.7,287.8 473.0,293.7 473.0,295.4 435.7,290.2 398.3,294.3 356.9,315.3" fill="#b1a176" stroke="#958560" stroke-width="0.4"/>
<polygon points="503.2,286.0 559.1,285.7 559.1,288.3 503.2,289.0" fill="#b1a176" stroke="#958560" stroke-width="0.4"/>
<line x1="143.8" y1="363.5" x2="152.0" y2="359.0" stroke="#f0862a" stroke-width="1.3"/><path d="M142.5 364.2L146.4 364.3L144.5 360.8ZM153.3 358.3L151.3 361.7L149.4 358.2Z" fill="#f0862a"/>
<line x1="173.0" y1="352.6" x2="183.7" y2="347.4" stroke="#f0862a" stroke-width="1.3"/><path d="M171.7 353.3L175.6 353.6L173.9 350.0ZM185.0 346.7L182.8 350.0L181.1 346.4Z" fill="#f0862a"/>
<line x1="208.0" y1="342.6" x2="218.7" y2="337.4" stroke="#f0862a" stroke-width="1.3"/><path d="M206.7 343.3L210.6 343.6L208.9 340.0ZM220.0 336.7L217.8 340.0L216.1 336.4Z" fill="#f0862a"/>
<line x1="269.0" y1="329.8" x2="280.0" y2="324.4" stroke="#f0862a" stroke-width="1.3"/><path d="M267.6 330.4L271.5 330.7L269.8 327.1ZM281.4 323.8L279.2 327.1L277.5 323.5Z" fill="#f0862a"/>
<line x1="406.4" y1="287.8" x2="417.4" y2="282.7" stroke="#f0862a" stroke-width="1.3"/><path d="M405.0 288.4L408.9 288.8L407.3 285.2ZM418.8 282.1L416.5 285.3L414.9 281.7Z" fill="#f0862a"/>
<line x1="521.6" y1="284.3" x2="529.5" y2="280.2" stroke="#f0862a" stroke-width="1.3"/><path d="M520.3 285.0L524.2 285.2L522.4 281.7ZM530.8 279.5L528.7 282.8L526.9 279.3Z" fill="#f0862a"/>
<polygon points="57.5,373.0 183.3,330.0 331.9,275.5 359.5,260.7 373.3,248.9 400.0,241.0 443.1,227.9 468.8,226.3 500.3,227.9 542.7,256.5 559.5,279.2 579.2,310.0 587.1,322.4 587.1,325.4 577.2,335.2 524.0,335.8 449.0,323.4 412.5,327.3 369.3,349.6 219.4,378.2 156.7,385.5 56.2,384.2" fill="none" stroke="#333" stroke-width="1" stroke-linejoin="round"/>
<line x1="252.5" y1="295" x2="252.5" y2="330" stroke="#222" stroke-width="0.7" stroke-dasharray="1.4 1"/>
<line x1="179.2" y1="323.5" x2="179.2" y2="344" stroke="#222" stroke-width="0.7" stroke-dasharray="1.4 1"/>
<polyline points="614.2,276.4 650.5,264.5 675.1,271.0 682.1,272.4" fill="none" stroke="#666" stroke-width="0.8"/>
<polyline points="675.1,271.0 695.3,259.7 704.9,260.4 717.2,266.8" fill="none" stroke="#666" stroke-width="0.8"/>
<polyline points="693.5,273.8 711.0,269.7 729.5,262.2 747.9,271.0 765.4,276.8" fill="none" stroke="#666" stroke-width="0.8"/>
<polygon points="609.4,356.0 700.0,329.8 754.7,314.2 800.0,306.0 873.6,287.6 908.9,274.5 960.0,262.7 1020.0,249.2 1048.3,247.5 1050.0,246.3 1072.5,247.5 1120.0,308.3 1123.3,334.2 1096.7,339.7 1040.0,341.3 991.7,345.0 950.0,346.3 926.7,346.7 881.7,352.5 840.0,353.8 810.8,356.7 786.7,364.2 724.5,369.0 610.4,368.3" fill="none" stroke="#111" stroke-width="1.3" stroke-linejoin="round"/>
<polyline points="1011.7,251.7 997.5,277.5 995.0,290.0 993.5,301.0 989.0,308.0 980.0,320.0 959.2,345.8" fill="none" stroke="#3fe3ec" stroke-width="0.9"/>
<polygon points="742.5,330.0 753.4,321.6 760.0,321.3 780.0,320.5 809.2,319.9 819.6,328.6 819.6,330.0" fill="#cca26a" stroke="#2e2114" stroke-width="0.8" stroke-linejoin="round"/>
<polygon points="723.8,335.5 732.6,328.2 742.5,327.9 760.0,327.3 782.9,325.7 800.0,326.5 811.4,327.4 817.0,328.3 826.8,335.3 826.8,336.0" fill="#cca26a" stroke="#2e2114" stroke-width="0.8" stroke-linejoin="round"/>
<polygon points="697.5,341.5 711.8,335.0 723.8,334.5 745.8,334.5 760.0,335.0 782.9,333.4 810.3,335.0 819.0,335.6 827.0,341.7 827.0,342.0" fill="#cca26a" stroke="#2e2114" stroke-width="0.8" stroke-linejoin="round"/>
<polygon points="681.5,347.0 690.4,340.0 696.4,340.7 712.9,339.4 734.8,338.8 750.0,339.4 770.0,340.2 791.7,340.0 816.0,340.2 822.4,347.2" fill="#cca26a" stroke="#2e2114" stroke-width="0.8" stroke-linejoin="round"/>
<polygon points="651.9,352.0 658.0,346.2 673.9,345.3 681.5,346.2 701.9,345.4 729.3,344.9 750.0,345.4 760.0,346.0 775.0,346.8 793.5,347.6 798.2,352.6" fill="#cca26a" stroke="#2e2114" stroke-width="0.8" stroke-linejoin="round"/>
<polygon points="637.1,358.2 647.5,350.8 651.9,351.1 662.9,352.2 680.0,351.5 700.0,351.2 712.9,350.9 729.3,352.5 741.4,350.9 750.0,350.9 760.0,352.0 767.5,352.8 771.5,358.2" fill="#cca26a" stroke="#2e2114" stroke-width="0.8" stroke-linejoin="round"/>
<polygon points="886.5,314.0 886.5,311.2 912.0,308.2 930.0,302.5 951.0,302.5 966.0,298.2 994.0,311.8 994.5,314.0" fill="#cca26a" stroke="#2e2114" stroke-width="0.8" stroke-linejoin="round"/>
<line x1="725.4" y1="358.6" x2="725.4" y2="377.6" stroke="#222" stroke-width="0.7" stroke-dasharray="1.4 1"/>
<line x1="944.5" y1="314.5" x2="944.5" y2="377.5" stroke="#222" stroke-width="0.7" stroke-dasharray="1.4 1"/>
</svg></body></html>
